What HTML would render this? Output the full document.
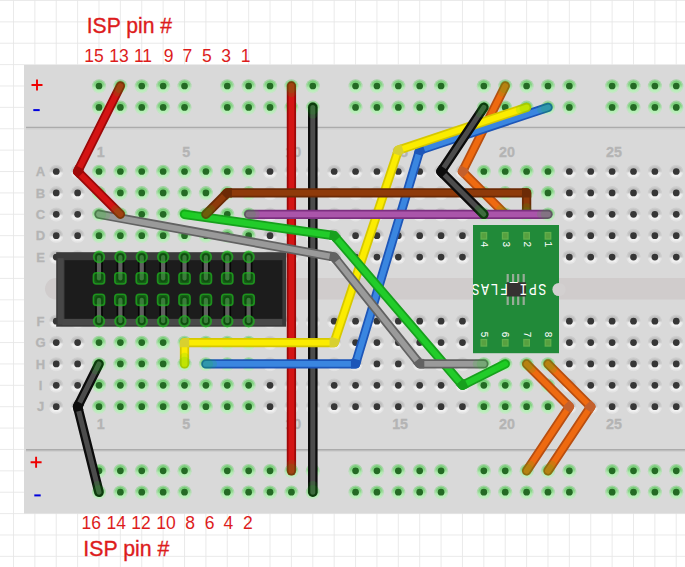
<!DOCTYPE html><html><head><meta charset="utf-8"><style>html,body{margin:0;padding:0;background:#fff;}svg{display:block;}</style></head><body>
<svg width="685" height="567" viewBox="0 0 685 567">
<defs>
<linearGradient id="hg" x1="0" y1="0" x2="0" y2="1"><stop offset="0" stop-color="#c4c4c4"/><stop offset="0.2" stop-color="#bcbcbc"/><stop offset="0.45" stop-color="#c6c6c6"/><stop offset="0.6" stop-color="#ececec"/><stop offset="0.85" stop-color="#f2f2f2"/><stop offset="1" stop-color="#e6e6e6"/></linearGradient>
<linearGradient id="gg" x1="0" y1="0" x2="0" y2="1"><stop offset="0" stop-color="#74cc74"/><stop offset="0.38" stop-color="#86d686"/><stop offset="0.62" stop-color="#aeeaae"/><stop offset="1" stop-color="#bdf0bd"/></linearGradient>
<clipPath id="modclip"><rect x="473" y="225" width="86" height="128"/></clipPath>
</defs>
<rect x="0" y="0" width="685" height="567" fill="#ffffff"/>
<path d="M13.48 0V567 M34.86 0V567 M56.24 0V567 M77.62 0V567 M99.00 0V567 M120.38 0V567 M141.76 0V567 M163.14 0V567 M184.52 0V567 M205.90 0V567 M227.28 0V567 M248.66 0V567 M270.04 0V567 M291.42 0V567 M312.80 0V567 M334.18 0V567 M355.56 0V567 M376.94 0V567 M398.32 0V567 M419.70 0V567 M441.08 0V567 M462.46 0V567 M483.84 0V567 M505.22 0V567 M526.60 0V567 M547.98 0V567 M569.36 0V567 M590.74 0V567 M612.12 0V567 M633.50 0V567 M654.88 0V567 M676.26 0V567 M0 0.48H685 M0 21.86H685 M0 43.24H685 M0 64.62H685 M0 86.00H685 M0 107.38H685 M0 128.76H685 M0 150.14H685 M0 171.52H685 M0 192.90H685 M0 214.28H685 M0 235.66H685 M0 257.04H685 M0 278.42H685 M0 299.80H685 M0 321.18H685 M0 342.56H685 M0 363.94H685 M0 385.32H685 M0 406.70H685 M0 428.08H685 M0 449.46H685 M0 470.84H685 M0 492.22H685 M0 513.60H685 M0 534.98H685 M0 556.36H685" stroke="#e6e6e6" stroke-width="0.85" fill="none"/>
<rect x="24" y="65" width="700" height="448.5" fill="#d9d9d9"/>
<path d="M26 127.5H700M26 449.9H700" stroke="#ababab" stroke-width="1.6"/>
<path d="M26 129H700M26 451.4H700" stroke="#cfcfcf" stroke-width="1.2"/>
<rect x="45" y="278" width="700" height="21.5" rx="10.75" fill="#d0cccc"/>
<path d="M31.5 85H42.5M37 79.5V90.5" stroke="#ee0000" stroke-width="1.9"/>
<path d="M33.3 110.1H39.7" stroke="#0000dd" stroke-width="2"/>
<path d="M30.6 462.3H41.6M36.1 456.8V467.8" stroke="#ee0000" stroke-width="1.9"/>
<path d="M34.3 495.4H40.7" stroke="#0000dd" stroke-width="2"/>
<text x="100.80" y="156.8" font-family="Liberation Sans" font-weight="bold" font-size="14.3" fill="#b4b4b4" stroke="#b4b4b4" stroke-width="0.3" text-anchor="middle">1</text>
<text x="100.80" y="428.5" font-family="Liberation Sans" font-weight="bold" font-size="14.3" fill="#b4b4b4" stroke="#b4b4b4" stroke-width="0.3" text-anchor="middle">1</text>
<text x="186.32" y="156.8" font-family="Liberation Sans" font-weight="bold" font-size="14.3" fill="#b4b4b4" stroke="#b4b4b4" stroke-width="0.3" text-anchor="middle">5</text>
<text x="186.32" y="428.5" font-family="Liberation Sans" font-weight="bold" font-size="14.3" fill="#b4b4b4" stroke="#b4b4b4" stroke-width="0.3" text-anchor="middle">5</text>
<text x="293.22" y="156.8" font-family="Liberation Sans" font-weight="bold" font-size="14.3" fill="#b4b4b4" stroke="#b4b4b4" stroke-width="0.3" text-anchor="middle">10</text>
<text x="293.22" y="428.5" font-family="Liberation Sans" font-weight="bold" font-size="14.3" fill="#b4b4b4" stroke="#b4b4b4" stroke-width="0.3" text-anchor="middle">10</text>
<text x="400.12" y="156.8" font-family="Liberation Sans" font-weight="bold" font-size="14.3" fill="#b4b4b4" stroke="#b4b4b4" stroke-width="0.3" text-anchor="middle">15</text>
<text x="400.12" y="428.5" font-family="Liberation Sans" font-weight="bold" font-size="14.3" fill="#b4b4b4" stroke="#b4b4b4" stroke-width="0.3" text-anchor="middle">15</text>
<text x="507.02" y="156.8" font-family="Liberation Sans" font-weight="bold" font-size="14.3" fill="#b4b4b4" stroke="#b4b4b4" stroke-width="0.3" text-anchor="middle">20</text>
<text x="507.02" y="428.5" font-family="Liberation Sans" font-weight="bold" font-size="14.3" fill="#b4b4b4" stroke="#b4b4b4" stroke-width="0.3" text-anchor="middle">20</text>
<text x="613.92" y="156.8" font-family="Liberation Sans" font-weight="bold" font-size="14.3" fill="#b4b4b4" stroke="#b4b4b4" stroke-width="0.3" text-anchor="middle">25</text>
<text x="613.92" y="428.5" font-family="Liberation Sans" font-weight="bold" font-size="14.3" fill="#b4b4b4" stroke="#b4b4b4" stroke-width="0.3" text-anchor="middle">25</text>
<text x="40.5" y="176.12" font-family="Liberation Sans" font-weight="bold" font-size="13" fill="#b4b4b4" stroke="#b4b4b4" stroke-width="0.3" text-anchor="middle">A</text>
<text x="40.5" y="197.50" font-family="Liberation Sans" font-weight="bold" font-size="13" fill="#b4b4b4" stroke="#b4b4b4" stroke-width="0.3" text-anchor="middle">B</text>
<text x="40.5" y="218.88" font-family="Liberation Sans" font-weight="bold" font-size="13" fill="#b4b4b4" stroke="#b4b4b4" stroke-width="0.3" text-anchor="middle">C</text>
<text x="40.5" y="240.26" font-family="Liberation Sans" font-weight="bold" font-size="13" fill="#b4b4b4" stroke="#b4b4b4" stroke-width="0.3" text-anchor="middle">D</text>
<text x="40.5" y="261.64" font-family="Liberation Sans" font-weight="bold" font-size="13" fill="#b4b4b4" stroke="#b4b4b4" stroke-width="0.3" text-anchor="middle">E</text>
<text x="40.5" y="325.78" font-family="Liberation Sans" font-weight="bold" font-size="13" fill="#b4b4b4" stroke="#b4b4b4" stroke-width="0.3" text-anchor="middle">F</text>
<text x="40.5" y="347.16" font-family="Liberation Sans" font-weight="bold" font-size="13" fill="#b4b4b4" stroke="#b4b4b4" stroke-width="0.3" text-anchor="middle">G</text>
<text x="40.5" y="368.54" font-family="Liberation Sans" font-weight="bold" font-size="13" fill="#b4b4b4" stroke="#b4b4b4" stroke-width="0.3" text-anchor="middle">H</text>
<text x="40.5" y="389.92" font-family="Liberation Sans" font-weight="bold" font-size="13" fill="#b4b4b4" stroke="#b4b4b4" stroke-width="0.3" text-anchor="middle">I</text>
<text x="40.5" y="411.30" font-family="Liberation Sans" font-weight="bold" font-size="13" fill="#b4b4b4" stroke="#b4b4b4" stroke-width="0.3" text-anchor="middle">J</text>
<circle cx="99.00" cy="86.30" r="7.1" fill="url(#gg)" opacity="0.55"/><circle cx="99.00" cy="86.20" r="5.7" fill="url(#gg)"/><circle cx="99.00" cy="86.00" r="3.35" fill="#246a24"/><circle cx="120.38" cy="86.30" r="7.1" fill="url(#gg)" opacity="0.55"/><circle cx="120.38" cy="86.20" r="5.7" fill="url(#gg)"/><circle cx="120.38" cy="86.00" r="3.35" fill="#246a24"/><circle cx="141.76" cy="86.30" r="7.1" fill="url(#gg)" opacity="0.55"/><circle cx="141.76" cy="86.20" r="5.7" fill="url(#gg)"/><circle cx="141.76" cy="86.00" r="3.35" fill="#246a24"/><circle cx="163.14" cy="86.30" r="7.1" fill="url(#gg)" opacity="0.55"/><circle cx="163.14" cy="86.20" r="5.7" fill="url(#gg)"/><circle cx="163.14" cy="86.00" r="3.35" fill="#246a24"/><circle cx="184.52" cy="86.30" r="7.1" fill="url(#gg)" opacity="0.55"/><circle cx="184.52" cy="86.20" r="5.7" fill="url(#gg)"/><circle cx="184.52" cy="86.00" r="3.35" fill="#246a24"/><circle cx="227.28" cy="86.30" r="7.1" fill="url(#gg)" opacity="0.55"/><circle cx="227.28" cy="86.20" r="5.7" fill="url(#gg)"/><circle cx="227.28" cy="86.00" r="3.35" fill="#246a24"/><circle cx="248.66" cy="86.30" r="7.1" fill="url(#gg)" opacity="0.55"/><circle cx="248.66" cy="86.20" r="5.7" fill="url(#gg)"/><circle cx="248.66" cy="86.00" r="3.35" fill="#246a24"/><circle cx="270.04" cy="86.30" r="7.1" fill="url(#gg)" opacity="0.55"/><circle cx="270.04" cy="86.20" r="5.7" fill="url(#gg)"/><circle cx="270.04" cy="86.00" r="3.35" fill="#246a24"/><circle cx="291.42" cy="86.30" r="7.1" fill="url(#gg)" opacity="0.55"/><circle cx="291.42" cy="86.20" r="5.7" fill="url(#gg)"/><circle cx="291.42" cy="86.00" r="3.35" fill="#246a24"/><circle cx="312.80" cy="86.30" r="7.1" fill="url(#gg)" opacity="0.55"/><circle cx="312.80" cy="86.20" r="5.7" fill="url(#gg)"/><circle cx="312.80" cy="86.00" r="3.35" fill="#246a24"/><circle cx="355.56" cy="86.30" r="7.1" fill="url(#gg)" opacity="0.55"/><circle cx="355.56" cy="86.20" r="5.7" fill="url(#gg)"/><circle cx="355.56" cy="86.00" r="3.35" fill="#246a24"/><circle cx="376.94" cy="86.30" r="7.1" fill="url(#gg)" opacity="0.55"/><circle cx="376.94" cy="86.20" r="5.7" fill="url(#gg)"/><circle cx="376.94" cy="86.00" r="3.35" fill="#246a24"/><circle cx="398.32" cy="86.30" r="7.1" fill="url(#gg)" opacity="0.55"/><circle cx="398.32" cy="86.20" r="5.7" fill="url(#gg)"/><circle cx="398.32" cy="86.00" r="3.35" fill="#246a24"/><circle cx="419.70" cy="86.30" r="7.1" fill="url(#gg)" opacity="0.55"/><circle cx="419.70" cy="86.20" r="5.7" fill="url(#gg)"/><circle cx="419.70" cy="86.00" r="3.35" fill="#246a24"/><circle cx="441.08" cy="86.30" r="7.1" fill="url(#gg)" opacity="0.55"/><circle cx="441.08" cy="86.20" r="5.7" fill="url(#gg)"/><circle cx="441.08" cy="86.00" r="3.35" fill="#246a24"/><circle cx="483.84" cy="86.30" r="7.1" fill="url(#gg)" opacity="0.55"/><circle cx="483.84" cy="86.20" r="5.7" fill="url(#gg)"/><circle cx="483.84" cy="86.00" r="3.35" fill="#246a24"/><circle cx="505.22" cy="86.30" r="7.1" fill="url(#gg)" opacity="0.55"/><circle cx="505.22" cy="86.20" r="5.7" fill="url(#gg)"/><circle cx="505.22" cy="86.00" r="3.35" fill="#246a24"/><circle cx="526.60" cy="86.30" r="7.1" fill="url(#gg)" opacity="0.55"/><circle cx="526.60" cy="86.20" r="5.7" fill="url(#gg)"/><circle cx="526.60" cy="86.00" r="3.35" fill="#246a24"/><circle cx="547.98" cy="86.30" r="7.1" fill="url(#gg)" opacity="0.55"/><circle cx="547.98" cy="86.20" r="5.7" fill="url(#gg)"/><circle cx="547.98" cy="86.00" r="3.35" fill="#246a24"/><circle cx="569.36" cy="86.30" r="7.1" fill="url(#gg)" opacity="0.55"/><circle cx="569.36" cy="86.20" r="5.7" fill="url(#gg)"/><circle cx="569.36" cy="86.00" r="3.35" fill="#246a24"/><circle cx="612.12" cy="86.30" r="7.1" fill="url(#gg)" opacity="0.55"/><circle cx="612.12" cy="86.20" r="5.7" fill="url(#gg)"/><circle cx="612.12" cy="86.00" r="3.35" fill="#246a24"/><circle cx="633.50" cy="86.30" r="7.1" fill="url(#gg)" opacity="0.55"/><circle cx="633.50" cy="86.20" r="5.7" fill="url(#gg)"/><circle cx="633.50" cy="86.00" r="3.35" fill="#246a24"/><circle cx="654.88" cy="86.30" r="7.1" fill="url(#gg)" opacity="0.55"/><circle cx="654.88" cy="86.20" r="5.7" fill="url(#gg)"/><circle cx="654.88" cy="86.00" r="3.35" fill="#246a24"/><circle cx="676.26" cy="86.30" r="7.1" fill="url(#gg)" opacity="0.55"/><circle cx="676.26" cy="86.20" r="5.7" fill="url(#gg)"/><circle cx="676.26" cy="86.00" r="3.35" fill="#246a24"/><circle cx="99.00" cy="107.68" r="7.1" fill="url(#gg)" opacity="0.55"/><circle cx="99.00" cy="107.58" r="5.7" fill="url(#gg)"/><circle cx="99.00" cy="107.38" r="3.35" fill="#246a24"/><circle cx="120.38" cy="107.68" r="7.1" fill="url(#gg)" opacity="0.55"/><circle cx="120.38" cy="107.58" r="5.7" fill="url(#gg)"/><circle cx="120.38" cy="107.38" r="3.35" fill="#246a24"/><circle cx="141.76" cy="107.68" r="7.1" fill="url(#gg)" opacity="0.55"/><circle cx="141.76" cy="107.58" r="5.7" fill="url(#gg)"/><circle cx="141.76" cy="107.38" r="3.35" fill="#246a24"/><circle cx="163.14" cy="107.68" r="7.1" fill="url(#gg)" opacity="0.55"/><circle cx="163.14" cy="107.58" r="5.7" fill="url(#gg)"/><circle cx="163.14" cy="107.38" r="3.35" fill="#246a24"/><circle cx="184.52" cy="107.68" r="7.1" fill="url(#gg)" opacity="0.55"/><circle cx="184.52" cy="107.58" r="5.7" fill="url(#gg)"/><circle cx="184.52" cy="107.38" r="3.35" fill="#246a24"/><circle cx="227.28" cy="107.68" r="7.1" fill="url(#gg)" opacity="0.55"/><circle cx="227.28" cy="107.58" r="5.7" fill="url(#gg)"/><circle cx="227.28" cy="107.38" r="3.35" fill="#246a24"/><circle cx="248.66" cy="107.68" r="7.1" fill="url(#gg)" opacity="0.55"/><circle cx="248.66" cy="107.58" r="5.7" fill="url(#gg)"/><circle cx="248.66" cy="107.38" r="3.35" fill="#246a24"/><circle cx="270.04" cy="107.68" r="7.1" fill="url(#gg)" opacity="0.55"/><circle cx="270.04" cy="107.58" r="5.7" fill="url(#gg)"/><circle cx="270.04" cy="107.38" r="3.35" fill="#246a24"/><circle cx="291.42" cy="107.68" r="7.1" fill="url(#gg)" opacity="0.55"/><circle cx="291.42" cy="107.58" r="5.7" fill="url(#gg)"/><circle cx="291.42" cy="107.38" r="3.35" fill="#246a24"/><circle cx="312.80" cy="107.68" r="7.1" fill="url(#gg)" opacity="0.55"/><circle cx="312.80" cy="107.58" r="5.7" fill="url(#gg)"/><circle cx="312.80" cy="107.38" r="3.35" fill="#246a24"/><circle cx="355.56" cy="107.68" r="7.1" fill="url(#gg)" opacity="0.55"/><circle cx="355.56" cy="107.58" r="5.7" fill="url(#gg)"/><circle cx="355.56" cy="107.38" r="3.35" fill="#246a24"/><circle cx="376.94" cy="107.68" r="7.1" fill="url(#gg)" opacity="0.55"/><circle cx="376.94" cy="107.58" r="5.7" fill="url(#gg)"/><circle cx="376.94" cy="107.38" r="3.35" fill="#246a24"/><circle cx="398.32" cy="107.68" r="7.1" fill="url(#gg)" opacity="0.55"/><circle cx="398.32" cy="107.58" r="5.7" fill="url(#gg)"/><circle cx="398.32" cy="107.38" r="3.35" fill="#246a24"/><circle cx="419.70" cy="107.68" r="7.1" fill="url(#gg)" opacity="0.55"/><circle cx="419.70" cy="107.58" r="5.7" fill="url(#gg)"/><circle cx="419.70" cy="107.38" r="3.35" fill="#246a24"/><circle cx="441.08" cy="107.68" r="7.1" fill="url(#gg)" opacity="0.55"/><circle cx="441.08" cy="107.58" r="5.7" fill="url(#gg)"/><circle cx="441.08" cy="107.38" r="3.35" fill="#246a24"/><circle cx="483.84" cy="107.68" r="7.1" fill="url(#gg)" opacity="0.55"/><circle cx="483.84" cy="107.58" r="5.7" fill="url(#gg)"/><circle cx="483.84" cy="107.38" r="3.35" fill="#246a24"/><circle cx="505.22" cy="107.68" r="7.1" fill="url(#gg)" opacity="0.55"/><circle cx="505.22" cy="107.58" r="5.7" fill="url(#gg)"/><circle cx="505.22" cy="107.38" r="3.35" fill="#246a24"/><circle cx="526.60" cy="107.68" r="7.1" fill="url(#gg)" opacity="0.55"/><circle cx="526.60" cy="107.58" r="5.7" fill="url(#gg)"/><circle cx="526.60" cy="107.38" r="3.35" fill="#246a24"/><circle cx="547.98" cy="107.68" r="7.1" fill="url(#gg)" opacity="0.55"/><circle cx="547.98" cy="107.58" r="5.7" fill="url(#gg)"/><circle cx="547.98" cy="107.38" r="3.35" fill="#246a24"/><circle cx="569.36" cy="107.68" r="7.1" fill="url(#gg)" opacity="0.55"/><circle cx="569.36" cy="107.58" r="5.7" fill="url(#gg)"/><circle cx="569.36" cy="107.38" r="3.35" fill="#246a24"/><circle cx="612.12" cy="107.68" r="7.1" fill="url(#gg)" opacity="0.55"/><circle cx="612.12" cy="107.58" r="5.7" fill="url(#gg)"/><circle cx="612.12" cy="107.38" r="3.35" fill="#246a24"/><circle cx="633.50" cy="107.68" r="7.1" fill="url(#gg)" opacity="0.55"/><circle cx="633.50" cy="107.58" r="5.7" fill="url(#gg)"/><circle cx="633.50" cy="107.38" r="3.35" fill="#246a24"/><circle cx="654.88" cy="107.68" r="7.1" fill="url(#gg)" opacity="0.55"/><circle cx="654.88" cy="107.58" r="5.7" fill="url(#gg)"/><circle cx="654.88" cy="107.38" r="3.35" fill="#246a24"/><circle cx="676.26" cy="107.68" r="7.1" fill="url(#gg)" opacity="0.55"/><circle cx="676.26" cy="107.58" r="5.7" fill="url(#gg)"/><circle cx="676.26" cy="107.38" r="3.35" fill="#246a24"/><circle cx="99.00" cy="471.14" r="7.1" fill="url(#gg)" opacity="0.55"/><circle cx="99.00" cy="471.04" r="5.7" fill="url(#gg)"/><circle cx="99.00" cy="470.84" r="3.35" fill="#246a24"/><circle cx="120.38" cy="471.14" r="7.1" fill="url(#gg)" opacity="0.55"/><circle cx="120.38" cy="471.04" r="5.7" fill="url(#gg)"/><circle cx="120.38" cy="470.84" r="3.35" fill="#246a24"/><circle cx="141.76" cy="471.14" r="7.1" fill="url(#gg)" opacity="0.55"/><circle cx="141.76" cy="471.04" r="5.7" fill="url(#gg)"/><circle cx="141.76" cy="470.84" r="3.35" fill="#246a24"/><circle cx="163.14" cy="471.14" r="7.1" fill="url(#gg)" opacity="0.55"/><circle cx="163.14" cy="471.04" r="5.7" fill="url(#gg)"/><circle cx="163.14" cy="470.84" r="3.35" fill="#246a24"/><circle cx="184.52" cy="471.14" r="7.1" fill="url(#gg)" opacity="0.55"/><circle cx="184.52" cy="471.04" r="5.7" fill="url(#gg)"/><circle cx="184.52" cy="470.84" r="3.35" fill="#246a24"/><circle cx="227.28" cy="471.14" r="7.1" fill="url(#gg)" opacity="0.55"/><circle cx="227.28" cy="471.04" r="5.7" fill="url(#gg)"/><circle cx="227.28" cy="470.84" r="3.35" fill="#246a24"/><circle cx="248.66" cy="471.14" r="7.1" fill="url(#gg)" opacity="0.55"/><circle cx="248.66" cy="471.04" r="5.7" fill="url(#gg)"/><circle cx="248.66" cy="470.84" r="3.35" fill="#246a24"/><circle cx="270.04" cy="471.14" r="7.1" fill="url(#gg)" opacity="0.55"/><circle cx="270.04" cy="471.04" r="5.7" fill="url(#gg)"/><circle cx="270.04" cy="470.84" r="3.35" fill="#246a24"/><circle cx="291.42" cy="471.14" r="7.1" fill="url(#gg)" opacity="0.55"/><circle cx="291.42" cy="471.04" r="5.7" fill="url(#gg)"/><circle cx="291.42" cy="470.84" r="3.35" fill="#246a24"/><circle cx="312.80" cy="471.14" r="7.1" fill="url(#gg)" opacity="0.55"/><circle cx="312.80" cy="471.04" r="5.7" fill="url(#gg)"/><circle cx="312.80" cy="470.84" r="3.35" fill="#246a24"/><circle cx="355.56" cy="471.14" r="7.1" fill="url(#gg)" opacity="0.55"/><circle cx="355.56" cy="471.04" r="5.7" fill="url(#gg)"/><circle cx="355.56" cy="470.84" r="3.35" fill="#246a24"/><circle cx="376.94" cy="471.14" r="7.1" fill="url(#gg)" opacity="0.55"/><circle cx="376.94" cy="471.04" r="5.7" fill="url(#gg)"/><circle cx="376.94" cy="470.84" r="3.35" fill="#246a24"/><circle cx="398.32" cy="471.14" r="7.1" fill="url(#gg)" opacity="0.55"/><circle cx="398.32" cy="471.04" r="5.7" fill="url(#gg)"/><circle cx="398.32" cy="470.84" r="3.35" fill="#246a24"/><circle cx="419.70" cy="471.14" r="7.1" fill="url(#gg)" opacity="0.55"/><circle cx="419.70" cy="471.04" r="5.7" fill="url(#gg)"/><circle cx="419.70" cy="470.84" r="3.35" fill="#246a24"/><circle cx="441.08" cy="471.14" r="7.1" fill="url(#gg)" opacity="0.55"/><circle cx="441.08" cy="471.04" r="5.7" fill="url(#gg)"/><circle cx="441.08" cy="470.84" r="3.35" fill="#246a24"/><circle cx="483.84" cy="471.14" r="7.1" fill="url(#gg)" opacity="0.55"/><circle cx="483.84" cy="471.04" r="5.7" fill="url(#gg)"/><circle cx="483.84" cy="470.84" r="3.35" fill="#246a24"/><circle cx="505.22" cy="471.14" r="7.1" fill="url(#gg)" opacity="0.55"/><circle cx="505.22" cy="471.04" r="5.7" fill="url(#gg)"/><circle cx="505.22" cy="470.84" r="3.35" fill="#246a24"/><circle cx="526.60" cy="471.14" r="7.1" fill="url(#gg)" opacity="0.55"/><circle cx="526.60" cy="471.04" r="5.7" fill="url(#gg)"/><circle cx="526.60" cy="470.84" r="3.35" fill="#246a24"/><circle cx="547.98" cy="471.14" r="7.1" fill="url(#gg)" opacity="0.55"/><circle cx="547.98" cy="471.04" r="5.7" fill="url(#gg)"/><circle cx="547.98" cy="470.84" r="3.35" fill="#246a24"/><circle cx="569.36" cy="471.14" r="7.1" fill="url(#gg)" opacity="0.55"/><circle cx="569.36" cy="471.04" r="5.7" fill="url(#gg)"/><circle cx="569.36" cy="470.84" r="3.35" fill="#246a24"/><circle cx="612.12" cy="471.14" r="7.1" fill="url(#gg)" opacity="0.55"/><circle cx="612.12" cy="471.04" r="5.7" fill="url(#gg)"/><circle cx="612.12" cy="470.84" r="3.35" fill="#246a24"/><circle cx="633.50" cy="471.14" r="7.1" fill="url(#gg)" opacity="0.55"/><circle cx="633.50" cy="471.04" r="5.7" fill="url(#gg)"/><circle cx="633.50" cy="470.84" r="3.35" fill="#246a24"/><circle cx="654.88" cy="471.14" r="7.1" fill="url(#gg)" opacity="0.55"/><circle cx="654.88" cy="471.04" r="5.7" fill="url(#gg)"/><circle cx="654.88" cy="470.84" r="3.35" fill="#246a24"/><circle cx="676.26" cy="471.14" r="7.1" fill="url(#gg)" opacity="0.55"/><circle cx="676.26" cy="471.04" r="5.7" fill="url(#gg)"/><circle cx="676.26" cy="470.84" r="3.35" fill="#246a24"/><circle cx="99.00" cy="492.52" r="7.1" fill="url(#gg)" opacity="0.55"/><circle cx="99.00" cy="492.42" r="5.7" fill="url(#gg)"/><circle cx="99.00" cy="492.22" r="3.35" fill="#246a24"/><circle cx="120.38" cy="492.52" r="7.1" fill="url(#gg)" opacity="0.55"/><circle cx="120.38" cy="492.42" r="5.7" fill="url(#gg)"/><circle cx="120.38" cy="492.22" r="3.35" fill="#246a24"/><circle cx="141.76" cy="492.52" r="7.1" fill="url(#gg)" opacity="0.55"/><circle cx="141.76" cy="492.42" r="5.7" fill="url(#gg)"/><circle cx="141.76" cy="492.22" r="3.35" fill="#246a24"/><circle cx="163.14" cy="492.52" r="7.1" fill="url(#gg)" opacity="0.55"/><circle cx="163.14" cy="492.42" r="5.7" fill="url(#gg)"/><circle cx="163.14" cy="492.22" r="3.35" fill="#246a24"/><circle cx="184.52" cy="492.52" r="7.1" fill="url(#gg)" opacity="0.55"/><circle cx="184.52" cy="492.42" r="5.7" fill="url(#gg)"/><circle cx="184.52" cy="492.22" r="3.35" fill="#246a24"/><circle cx="227.28" cy="492.52" r="7.1" fill="url(#gg)" opacity="0.55"/><circle cx="227.28" cy="492.42" r="5.7" fill="url(#gg)"/><circle cx="227.28" cy="492.22" r="3.35" fill="#246a24"/><circle cx="248.66" cy="492.52" r="7.1" fill="url(#gg)" opacity="0.55"/><circle cx="248.66" cy="492.42" r="5.7" fill="url(#gg)"/><circle cx="248.66" cy="492.22" r="3.35" fill="#246a24"/><circle cx="270.04" cy="492.52" r="7.1" fill="url(#gg)" opacity="0.55"/><circle cx="270.04" cy="492.42" r="5.7" fill="url(#gg)"/><circle cx="270.04" cy="492.22" r="3.35" fill="#246a24"/><circle cx="291.42" cy="492.52" r="7.1" fill="url(#gg)" opacity="0.55"/><circle cx="291.42" cy="492.42" r="5.7" fill="url(#gg)"/><circle cx="291.42" cy="492.22" r="3.35" fill="#246a24"/><circle cx="312.80" cy="492.52" r="7.1" fill="url(#gg)" opacity="0.55"/><circle cx="312.80" cy="492.42" r="5.7" fill="url(#gg)"/><circle cx="312.80" cy="492.22" r="3.35" fill="#246a24"/><circle cx="355.56" cy="492.52" r="7.1" fill="url(#gg)" opacity="0.55"/><circle cx="355.56" cy="492.42" r="5.7" fill="url(#gg)"/><circle cx="355.56" cy="492.22" r="3.35" fill="#246a24"/><circle cx="376.94" cy="492.52" r="7.1" fill="url(#gg)" opacity="0.55"/><circle cx="376.94" cy="492.42" r="5.7" fill="url(#gg)"/><circle cx="376.94" cy="492.22" r="3.35" fill="#246a24"/><circle cx="398.32" cy="492.52" r="7.1" fill="url(#gg)" opacity="0.55"/><circle cx="398.32" cy="492.42" r="5.7" fill="url(#gg)"/><circle cx="398.32" cy="492.22" r="3.35" fill="#246a24"/><circle cx="419.70" cy="492.52" r="7.1" fill="url(#gg)" opacity="0.55"/><circle cx="419.70" cy="492.42" r="5.7" fill="url(#gg)"/><circle cx="419.70" cy="492.22" r="3.35" fill="#246a24"/><circle cx="441.08" cy="492.52" r="7.1" fill="url(#gg)" opacity="0.55"/><circle cx="441.08" cy="492.42" r="5.7" fill="url(#gg)"/><circle cx="441.08" cy="492.22" r="3.35" fill="#246a24"/><circle cx="483.84" cy="492.52" r="7.1" fill="url(#gg)" opacity="0.55"/><circle cx="483.84" cy="492.42" r="5.7" fill="url(#gg)"/><circle cx="483.84" cy="492.22" r="3.35" fill="#246a24"/><circle cx="505.22" cy="492.52" r="7.1" fill="url(#gg)" opacity="0.55"/><circle cx="505.22" cy="492.42" r="5.7" fill="url(#gg)"/><circle cx="505.22" cy="492.22" r="3.35" fill="#246a24"/><circle cx="526.60" cy="492.52" r="7.1" fill="url(#gg)" opacity="0.55"/><circle cx="526.60" cy="492.42" r="5.7" fill="url(#gg)"/><circle cx="526.60" cy="492.22" r="3.35" fill="#246a24"/><circle cx="547.98" cy="492.52" r="7.1" fill="url(#gg)" opacity="0.55"/><circle cx="547.98" cy="492.42" r="5.7" fill="url(#gg)"/><circle cx="547.98" cy="492.22" r="3.35" fill="#246a24"/><circle cx="569.36" cy="492.52" r="7.1" fill="url(#gg)" opacity="0.55"/><circle cx="569.36" cy="492.42" r="5.7" fill="url(#gg)"/><circle cx="569.36" cy="492.22" r="3.35" fill="#246a24"/><circle cx="612.12" cy="492.52" r="7.1" fill="url(#gg)" opacity="0.55"/><circle cx="612.12" cy="492.42" r="5.7" fill="url(#gg)"/><circle cx="612.12" cy="492.22" r="3.35" fill="#246a24"/><circle cx="633.50" cy="492.52" r="7.1" fill="url(#gg)" opacity="0.55"/><circle cx="633.50" cy="492.42" r="5.7" fill="url(#gg)"/><circle cx="633.50" cy="492.22" r="3.35" fill="#246a24"/><circle cx="654.88" cy="492.52" r="7.1" fill="url(#gg)" opacity="0.55"/><circle cx="654.88" cy="492.42" r="5.7" fill="url(#gg)"/><circle cx="654.88" cy="492.22" r="3.35" fill="#246a24"/><circle cx="676.26" cy="492.52" r="7.1" fill="url(#gg)" opacity="0.55"/><circle cx="676.26" cy="492.42" r="5.7" fill="url(#gg)"/><circle cx="676.26" cy="492.22" r="3.35" fill="#246a24"/><circle cx="56.24" cy="171.82" r="7.1" fill="url(#hg)" opacity="0.55"/><circle cx="56.24" cy="171.72" r="5.7" fill="url(#hg)"/><circle cx="56.24" cy="171.52" r="3.35" fill="#363636"/><circle cx="77.62" cy="171.82" r="7.1" fill="url(#hg)" opacity="0.55"/><circle cx="77.62" cy="171.72" r="5.7" fill="url(#hg)"/><circle cx="77.62" cy="171.52" r="3.35" fill="#363636"/><circle cx="99.00" cy="171.82" r="7.1" fill="url(#gg)" opacity="0.55"/><circle cx="99.00" cy="171.72" r="5.7" fill="url(#gg)"/><circle cx="99.00" cy="171.52" r="3.35" fill="#246a24"/><circle cx="120.38" cy="171.82" r="7.1" fill="url(#gg)" opacity="0.55"/><circle cx="120.38" cy="171.72" r="5.7" fill="url(#gg)"/><circle cx="120.38" cy="171.52" r="3.35" fill="#246a24"/><circle cx="141.76" cy="171.82" r="7.1" fill="url(#gg)" opacity="0.55"/><circle cx="141.76" cy="171.72" r="5.7" fill="url(#gg)"/><circle cx="141.76" cy="171.52" r="3.35" fill="#246a24"/><circle cx="163.14" cy="171.82" r="7.1" fill="url(#gg)" opacity="0.55"/><circle cx="163.14" cy="171.72" r="5.7" fill="url(#gg)"/><circle cx="163.14" cy="171.52" r="3.35" fill="#246a24"/><circle cx="184.52" cy="171.82" r="7.1" fill="url(#gg)" opacity="0.55"/><circle cx="184.52" cy="171.72" r="5.7" fill="url(#gg)"/><circle cx="184.52" cy="171.52" r="3.35" fill="#246a24"/><circle cx="205.90" cy="171.82" r="7.1" fill="url(#gg)" opacity="0.55"/><circle cx="205.90" cy="171.72" r="5.7" fill="url(#gg)"/><circle cx="205.90" cy="171.52" r="3.35" fill="#246a24"/><circle cx="227.28" cy="171.82" r="7.1" fill="url(#gg)" opacity="0.55"/><circle cx="227.28" cy="171.72" r="5.7" fill="url(#gg)"/><circle cx="227.28" cy="171.52" r="3.35" fill="#246a24"/><circle cx="248.66" cy="171.82" r="7.1" fill="url(#gg)" opacity="0.55"/><circle cx="248.66" cy="171.72" r="5.7" fill="url(#gg)"/><circle cx="248.66" cy="171.52" r="3.35" fill="#246a24"/><circle cx="270.04" cy="171.82" r="7.1" fill="url(#hg)" opacity="0.55"/><circle cx="270.04" cy="171.72" r="5.7" fill="url(#hg)"/><circle cx="270.04" cy="171.52" r="3.35" fill="#363636"/><circle cx="291.42" cy="171.82" r="7.1" fill="url(#hg)" opacity="0.55"/><circle cx="291.42" cy="171.72" r="5.7" fill="url(#hg)"/><circle cx="291.42" cy="171.52" r="3.35" fill="#363636"/><circle cx="312.80" cy="171.82" r="7.1" fill="url(#hg)" opacity="0.55"/><circle cx="312.80" cy="171.72" r="5.7" fill="url(#hg)"/><circle cx="312.80" cy="171.52" r="3.35" fill="#363636"/><circle cx="334.18" cy="171.82" r="7.1" fill="url(#hg)" opacity="0.55"/><circle cx="334.18" cy="171.72" r="5.7" fill="url(#hg)"/><circle cx="334.18" cy="171.52" r="3.35" fill="#363636"/><circle cx="355.56" cy="171.82" r="7.1" fill="url(#hg)" opacity="0.55"/><circle cx="355.56" cy="171.72" r="5.7" fill="url(#hg)"/><circle cx="355.56" cy="171.52" r="3.35" fill="#363636"/><circle cx="376.94" cy="171.82" r="7.1" fill="url(#hg)" opacity="0.55"/><circle cx="376.94" cy="171.72" r="5.7" fill="url(#hg)"/><circle cx="376.94" cy="171.52" r="3.35" fill="#363636"/><circle cx="398.32" cy="171.82" r="7.1" fill="url(#hg)" opacity="0.55"/><circle cx="398.32" cy="171.72" r="5.7" fill="url(#hg)"/><circle cx="398.32" cy="171.52" r="3.35" fill="#363636"/><circle cx="419.70" cy="171.82" r="7.1" fill="url(#hg)" opacity="0.55"/><circle cx="419.70" cy="171.72" r="5.7" fill="url(#hg)"/><circle cx="419.70" cy="171.52" r="3.35" fill="#363636"/><circle cx="441.08" cy="171.82" r="7.1" fill="url(#hg)" opacity="0.55"/><circle cx="441.08" cy="171.72" r="5.7" fill="url(#hg)"/><circle cx="441.08" cy="171.52" r="3.35" fill="#363636"/><circle cx="462.46" cy="171.82" r="7.1" fill="url(#hg)" opacity="0.55"/><circle cx="462.46" cy="171.72" r="5.7" fill="url(#hg)"/><circle cx="462.46" cy="171.52" r="3.35" fill="#363636"/><circle cx="483.84" cy="171.82" r="7.1" fill="url(#gg)" opacity="0.55"/><circle cx="483.84" cy="171.72" r="5.7" fill="url(#gg)"/><circle cx="483.84" cy="171.52" r="3.35" fill="#246a24"/><circle cx="505.22" cy="171.82" r="7.1" fill="url(#gg)" opacity="0.55"/><circle cx="505.22" cy="171.72" r="5.7" fill="url(#gg)"/><circle cx="505.22" cy="171.52" r="3.35" fill="#246a24"/><circle cx="526.60" cy="171.82" r="7.1" fill="url(#gg)" opacity="0.55"/><circle cx="526.60" cy="171.72" r="5.7" fill="url(#gg)"/><circle cx="526.60" cy="171.52" r="3.35" fill="#246a24"/><circle cx="547.98" cy="171.82" r="7.1" fill="url(#gg)" opacity="0.55"/><circle cx="547.98" cy="171.72" r="5.7" fill="url(#gg)"/><circle cx="547.98" cy="171.52" r="3.35" fill="#246a24"/><circle cx="569.36" cy="171.82" r="7.1" fill="url(#hg)" opacity="0.55"/><circle cx="569.36" cy="171.72" r="5.7" fill="url(#hg)"/><circle cx="569.36" cy="171.52" r="3.35" fill="#363636"/><circle cx="590.74" cy="171.82" r="7.1" fill="url(#hg)" opacity="0.55"/><circle cx="590.74" cy="171.72" r="5.7" fill="url(#hg)"/><circle cx="590.74" cy="171.52" r="3.35" fill="#363636"/><circle cx="612.12" cy="171.82" r="7.1" fill="url(#hg)" opacity="0.55"/><circle cx="612.12" cy="171.72" r="5.7" fill="url(#hg)"/><circle cx="612.12" cy="171.52" r="3.35" fill="#363636"/><circle cx="633.50" cy="171.82" r="7.1" fill="url(#hg)" opacity="0.55"/><circle cx="633.50" cy="171.72" r="5.7" fill="url(#hg)"/><circle cx="633.50" cy="171.52" r="3.35" fill="#363636"/><circle cx="654.88" cy="171.82" r="7.1" fill="url(#hg)" opacity="0.55"/><circle cx="654.88" cy="171.72" r="5.7" fill="url(#hg)"/><circle cx="654.88" cy="171.52" r="3.35" fill="#363636"/><circle cx="676.26" cy="171.82" r="7.1" fill="url(#hg)" opacity="0.55"/><circle cx="676.26" cy="171.72" r="5.7" fill="url(#hg)"/><circle cx="676.26" cy="171.52" r="3.35" fill="#363636"/><circle cx="56.24" cy="193.20" r="7.1" fill="url(#hg)" opacity="0.55"/><circle cx="56.24" cy="193.10" r="5.7" fill="url(#hg)"/><circle cx="56.24" cy="192.90" r="3.35" fill="#363636"/><circle cx="77.62" cy="193.20" r="7.1" fill="url(#hg)" opacity="0.55"/><circle cx="77.62" cy="193.10" r="5.7" fill="url(#hg)"/><circle cx="77.62" cy="192.90" r="3.35" fill="#363636"/><circle cx="99.00" cy="193.20" r="7.1" fill="url(#gg)" opacity="0.55"/><circle cx="99.00" cy="193.10" r="5.7" fill="url(#gg)"/><circle cx="99.00" cy="192.90" r="3.35" fill="#246a24"/><circle cx="120.38" cy="193.20" r="7.1" fill="url(#gg)" opacity="0.55"/><circle cx="120.38" cy="193.10" r="5.7" fill="url(#gg)"/><circle cx="120.38" cy="192.90" r="3.35" fill="#246a24"/><circle cx="141.76" cy="193.20" r="7.1" fill="url(#gg)" opacity="0.55"/><circle cx="141.76" cy="193.10" r="5.7" fill="url(#gg)"/><circle cx="141.76" cy="192.90" r="3.35" fill="#246a24"/><circle cx="163.14" cy="193.20" r="7.1" fill="url(#gg)" opacity="0.55"/><circle cx="163.14" cy="193.10" r="5.7" fill="url(#gg)"/><circle cx="163.14" cy="192.90" r="3.35" fill="#246a24"/><circle cx="184.52" cy="193.20" r="7.1" fill="url(#gg)" opacity="0.55"/><circle cx="184.52" cy="193.10" r="5.7" fill="url(#gg)"/><circle cx="184.52" cy="192.90" r="3.35" fill="#246a24"/><circle cx="205.90" cy="193.20" r="7.1" fill="url(#gg)" opacity="0.55"/><circle cx="205.90" cy="193.10" r="5.7" fill="url(#gg)"/><circle cx="205.90" cy="192.90" r="3.35" fill="#246a24"/><circle cx="227.28" cy="193.20" r="7.1" fill="url(#gg)" opacity="0.55"/><circle cx="227.28" cy="193.10" r="5.7" fill="url(#gg)"/><circle cx="227.28" cy="192.90" r="3.35" fill="#246a24"/><circle cx="248.66" cy="193.20" r="7.1" fill="url(#gg)" opacity="0.55"/><circle cx="248.66" cy="193.10" r="5.7" fill="url(#gg)"/><circle cx="248.66" cy="192.90" r="3.35" fill="#246a24"/><circle cx="270.04" cy="193.20" r="7.1" fill="url(#hg)" opacity="0.55"/><circle cx="270.04" cy="193.10" r="5.7" fill="url(#hg)"/><circle cx="270.04" cy="192.90" r="3.35" fill="#363636"/><circle cx="291.42" cy="193.20" r="7.1" fill="url(#hg)" opacity="0.55"/><circle cx="291.42" cy="193.10" r="5.7" fill="url(#hg)"/><circle cx="291.42" cy="192.90" r="3.35" fill="#363636"/><circle cx="312.80" cy="193.20" r="7.1" fill="url(#hg)" opacity="0.55"/><circle cx="312.80" cy="193.10" r="5.7" fill="url(#hg)"/><circle cx="312.80" cy="192.90" r="3.35" fill="#363636"/><circle cx="334.18" cy="193.20" r="7.1" fill="url(#hg)" opacity="0.55"/><circle cx="334.18" cy="193.10" r="5.7" fill="url(#hg)"/><circle cx="334.18" cy="192.90" r="3.35" fill="#363636"/><circle cx="355.56" cy="193.20" r="7.1" fill="url(#hg)" opacity="0.55"/><circle cx="355.56" cy="193.10" r="5.7" fill="url(#hg)"/><circle cx="355.56" cy="192.90" r="3.35" fill="#363636"/><circle cx="376.94" cy="193.20" r="7.1" fill="url(#hg)" opacity="0.55"/><circle cx="376.94" cy="193.10" r="5.7" fill="url(#hg)"/><circle cx="376.94" cy="192.90" r="3.35" fill="#363636"/><circle cx="398.32" cy="193.20" r="7.1" fill="url(#hg)" opacity="0.55"/><circle cx="398.32" cy="193.10" r="5.7" fill="url(#hg)"/><circle cx="398.32" cy="192.90" r="3.35" fill="#363636"/><circle cx="419.70" cy="193.20" r="7.1" fill="url(#hg)" opacity="0.55"/><circle cx="419.70" cy="193.10" r="5.7" fill="url(#hg)"/><circle cx="419.70" cy="192.90" r="3.35" fill="#363636"/><circle cx="441.08" cy="193.20" r="7.1" fill="url(#hg)" opacity="0.55"/><circle cx="441.08" cy="193.10" r="5.7" fill="url(#hg)"/><circle cx="441.08" cy="192.90" r="3.35" fill="#363636"/><circle cx="462.46" cy="193.20" r="7.1" fill="url(#hg)" opacity="0.55"/><circle cx="462.46" cy="193.10" r="5.7" fill="url(#hg)"/><circle cx="462.46" cy="192.90" r="3.35" fill="#363636"/><circle cx="483.84" cy="193.20" r="7.1" fill="url(#gg)" opacity="0.55"/><circle cx="483.84" cy="193.10" r="5.7" fill="url(#gg)"/><circle cx="483.84" cy="192.90" r="3.35" fill="#246a24"/><circle cx="505.22" cy="193.20" r="7.1" fill="url(#gg)" opacity="0.55"/><circle cx="505.22" cy="193.10" r="5.7" fill="url(#gg)"/><circle cx="505.22" cy="192.90" r="3.35" fill="#246a24"/><circle cx="526.60" cy="193.20" r="7.1" fill="url(#gg)" opacity="0.55"/><circle cx="526.60" cy="193.10" r="5.7" fill="url(#gg)"/><circle cx="526.60" cy="192.90" r="3.35" fill="#246a24"/><circle cx="547.98" cy="193.20" r="7.1" fill="url(#gg)" opacity="0.55"/><circle cx="547.98" cy="193.10" r="5.7" fill="url(#gg)"/><circle cx="547.98" cy="192.90" r="3.35" fill="#246a24"/><circle cx="569.36" cy="193.20" r="7.1" fill="url(#hg)" opacity="0.55"/><circle cx="569.36" cy="193.10" r="5.7" fill="url(#hg)"/><circle cx="569.36" cy="192.90" r="3.35" fill="#363636"/><circle cx="590.74" cy="193.20" r="7.1" fill="url(#hg)" opacity="0.55"/><circle cx="590.74" cy="193.10" r="5.7" fill="url(#hg)"/><circle cx="590.74" cy="192.90" r="3.35" fill="#363636"/><circle cx="612.12" cy="193.20" r="7.1" fill="url(#hg)" opacity="0.55"/><circle cx="612.12" cy="193.10" r="5.7" fill="url(#hg)"/><circle cx="612.12" cy="192.90" r="3.35" fill="#363636"/><circle cx="633.50" cy="193.20" r="7.1" fill="url(#hg)" opacity="0.55"/><circle cx="633.50" cy="193.10" r="5.7" fill="url(#hg)"/><circle cx="633.50" cy="192.90" r="3.35" fill="#363636"/><circle cx="654.88" cy="193.20" r="7.1" fill="url(#hg)" opacity="0.55"/><circle cx="654.88" cy="193.10" r="5.7" fill="url(#hg)"/><circle cx="654.88" cy="192.90" r="3.35" fill="#363636"/><circle cx="676.26" cy="193.20" r="7.1" fill="url(#hg)" opacity="0.55"/><circle cx="676.26" cy="193.10" r="5.7" fill="url(#hg)"/><circle cx="676.26" cy="192.90" r="3.35" fill="#363636"/><circle cx="56.24" cy="214.58" r="7.1" fill="url(#hg)" opacity="0.55"/><circle cx="56.24" cy="214.48" r="5.7" fill="url(#hg)"/><circle cx="56.24" cy="214.28" r="3.35" fill="#363636"/><circle cx="77.62" cy="214.58" r="7.1" fill="url(#hg)" opacity="0.55"/><circle cx="77.62" cy="214.48" r="5.7" fill="url(#hg)"/><circle cx="77.62" cy="214.28" r="3.35" fill="#363636"/><circle cx="99.00" cy="214.58" r="7.1" fill="url(#gg)" opacity="0.55"/><circle cx="99.00" cy="214.48" r="5.7" fill="url(#gg)"/><circle cx="99.00" cy="214.28" r="3.35" fill="#246a24"/><circle cx="120.38" cy="214.58" r="7.1" fill="url(#gg)" opacity="0.55"/><circle cx="120.38" cy="214.48" r="5.7" fill="url(#gg)"/><circle cx="120.38" cy="214.28" r="3.35" fill="#246a24"/><circle cx="141.76" cy="214.58" r="7.1" fill="url(#gg)" opacity="0.55"/><circle cx="141.76" cy="214.48" r="5.7" fill="url(#gg)"/><circle cx="141.76" cy="214.28" r="3.35" fill="#246a24"/><circle cx="163.14" cy="214.58" r="7.1" fill="url(#gg)" opacity="0.55"/><circle cx="163.14" cy="214.48" r="5.7" fill="url(#gg)"/><circle cx="163.14" cy="214.28" r="3.35" fill="#246a24"/><circle cx="184.52" cy="214.58" r="7.1" fill="url(#gg)" opacity="0.55"/><circle cx="184.52" cy="214.48" r="5.7" fill="url(#gg)"/><circle cx="184.52" cy="214.28" r="3.35" fill="#246a24"/><circle cx="205.90" cy="214.58" r="7.1" fill="url(#gg)" opacity="0.55"/><circle cx="205.90" cy="214.48" r="5.7" fill="url(#gg)"/><circle cx="205.90" cy="214.28" r="3.35" fill="#246a24"/><circle cx="227.28" cy="214.58" r="7.1" fill="url(#gg)" opacity="0.55"/><circle cx="227.28" cy="214.48" r="5.7" fill="url(#gg)"/><circle cx="227.28" cy="214.28" r="3.35" fill="#246a24"/><circle cx="248.66" cy="214.58" r="7.1" fill="url(#gg)" opacity="0.55"/><circle cx="248.66" cy="214.48" r="5.7" fill="url(#gg)"/><circle cx="248.66" cy="214.28" r="3.35" fill="#246a24"/><circle cx="270.04" cy="214.58" r="7.1" fill="url(#hg)" opacity="0.55"/><circle cx="270.04" cy="214.48" r="5.7" fill="url(#hg)"/><circle cx="270.04" cy="214.28" r="3.35" fill="#363636"/><circle cx="291.42" cy="214.58" r="7.1" fill="url(#hg)" opacity="0.55"/><circle cx="291.42" cy="214.48" r="5.7" fill="url(#hg)"/><circle cx="291.42" cy="214.28" r="3.35" fill="#363636"/><circle cx="312.80" cy="214.58" r="7.1" fill="url(#hg)" opacity="0.55"/><circle cx="312.80" cy="214.48" r="5.7" fill="url(#hg)"/><circle cx="312.80" cy="214.28" r="3.35" fill="#363636"/><circle cx="334.18" cy="214.58" r="7.1" fill="url(#hg)" opacity="0.55"/><circle cx="334.18" cy="214.48" r="5.7" fill="url(#hg)"/><circle cx="334.18" cy="214.28" r="3.35" fill="#363636"/><circle cx="355.56" cy="214.58" r="7.1" fill="url(#hg)" opacity="0.55"/><circle cx="355.56" cy="214.48" r="5.7" fill="url(#hg)"/><circle cx="355.56" cy="214.28" r="3.35" fill="#363636"/><circle cx="376.94" cy="214.58" r="7.1" fill="url(#hg)" opacity="0.55"/><circle cx="376.94" cy="214.48" r="5.7" fill="url(#hg)"/><circle cx="376.94" cy="214.28" r="3.35" fill="#363636"/><circle cx="398.32" cy="214.58" r="7.1" fill="url(#hg)" opacity="0.55"/><circle cx="398.32" cy="214.48" r="5.7" fill="url(#hg)"/><circle cx="398.32" cy="214.28" r="3.35" fill="#363636"/><circle cx="419.70" cy="214.58" r="7.1" fill="url(#hg)" opacity="0.55"/><circle cx="419.70" cy="214.48" r="5.7" fill="url(#hg)"/><circle cx="419.70" cy="214.28" r="3.35" fill="#363636"/><circle cx="441.08" cy="214.58" r="7.1" fill="url(#hg)" opacity="0.55"/><circle cx="441.08" cy="214.48" r="5.7" fill="url(#hg)"/><circle cx="441.08" cy="214.28" r="3.35" fill="#363636"/><circle cx="462.46" cy="214.58" r="7.1" fill="url(#hg)" opacity="0.55"/><circle cx="462.46" cy="214.48" r="5.7" fill="url(#hg)"/><circle cx="462.46" cy="214.28" r="3.35" fill="#363636"/><circle cx="483.84" cy="214.58" r="7.1" fill="url(#gg)" opacity="0.55"/><circle cx="483.84" cy="214.48" r="5.7" fill="url(#gg)"/><circle cx="483.84" cy="214.28" r="3.35" fill="#246a24"/><circle cx="505.22" cy="214.58" r="7.1" fill="url(#gg)" opacity="0.55"/><circle cx="505.22" cy="214.48" r="5.7" fill="url(#gg)"/><circle cx="505.22" cy="214.28" r="3.35" fill="#246a24"/><circle cx="526.60" cy="214.58" r="7.1" fill="url(#gg)" opacity="0.55"/><circle cx="526.60" cy="214.48" r="5.7" fill="url(#gg)"/><circle cx="526.60" cy="214.28" r="3.35" fill="#246a24"/><circle cx="547.98" cy="214.58" r="7.1" fill="url(#gg)" opacity="0.55"/><circle cx="547.98" cy="214.48" r="5.7" fill="url(#gg)"/><circle cx="547.98" cy="214.28" r="3.35" fill="#246a24"/><circle cx="569.36" cy="214.58" r="7.1" fill="url(#hg)" opacity="0.55"/><circle cx="569.36" cy="214.48" r="5.7" fill="url(#hg)"/><circle cx="569.36" cy="214.28" r="3.35" fill="#363636"/><circle cx="590.74" cy="214.58" r="7.1" fill="url(#hg)" opacity="0.55"/><circle cx="590.74" cy="214.48" r="5.7" fill="url(#hg)"/><circle cx="590.74" cy="214.28" r="3.35" fill="#363636"/><circle cx="612.12" cy="214.58" r="7.1" fill="url(#hg)" opacity="0.55"/><circle cx="612.12" cy="214.48" r="5.7" fill="url(#hg)"/><circle cx="612.12" cy="214.28" r="3.35" fill="#363636"/><circle cx="633.50" cy="214.58" r="7.1" fill="url(#hg)" opacity="0.55"/><circle cx="633.50" cy="214.48" r="5.7" fill="url(#hg)"/><circle cx="633.50" cy="214.28" r="3.35" fill="#363636"/><circle cx="654.88" cy="214.58" r="7.1" fill="url(#hg)" opacity="0.55"/><circle cx="654.88" cy="214.48" r="5.7" fill="url(#hg)"/><circle cx="654.88" cy="214.28" r="3.35" fill="#363636"/><circle cx="676.26" cy="214.58" r="7.1" fill="url(#hg)" opacity="0.55"/><circle cx="676.26" cy="214.48" r="5.7" fill="url(#hg)"/><circle cx="676.26" cy="214.28" r="3.35" fill="#363636"/><circle cx="56.24" cy="235.96" r="7.1" fill="url(#hg)" opacity="0.55"/><circle cx="56.24" cy="235.86" r="5.7" fill="url(#hg)"/><circle cx="56.24" cy="235.66" r="3.35" fill="#363636"/><circle cx="77.62" cy="235.96" r="7.1" fill="url(#hg)" opacity="0.55"/><circle cx="77.62" cy="235.86" r="5.7" fill="url(#hg)"/><circle cx="77.62" cy="235.66" r="3.35" fill="#363636"/><circle cx="99.00" cy="235.96" r="7.1" fill="url(#gg)" opacity="0.55"/><circle cx="99.00" cy="235.86" r="5.7" fill="url(#gg)"/><circle cx="99.00" cy="235.66" r="3.35" fill="#246a24"/><circle cx="120.38" cy="235.96" r="7.1" fill="url(#gg)" opacity="0.55"/><circle cx="120.38" cy="235.86" r="5.7" fill="url(#gg)"/><circle cx="120.38" cy="235.66" r="3.35" fill="#246a24"/><circle cx="141.76" cy="235.96" r="7.1" fill="url(#gg)" opacity="0.55"/><circle cx="141.76" cy="235.86" r="5.7" fill="url(#gg)"/><circle cx="141.76" cy="235.66" r="3.35" fill="#246a24"/><circle cx="163.14" cy="235.96" r="7.1" fill="url(#gg)" opacity="0.55"/><circle cx="163.14" cy="235.86" r="5.7" fill="url(#gg)"/><circle cx="163.14" cy="235.66" r="3.35" fill="#246a24"/><circle cx="184.52" cy="235.96" r="7.1" fill="url(#gg)" opacity="0.55"/><circle cx="184.52" cy="235.86" r="5.7" fill="url(#gg)"/><circle cx="184.52" cy="235.66" r="3.35" fill="#246a24"/><circle cx="205.90" cy="235.96" r="7.1" fill="url(#gg)" opacity="0.55"/><circle cx="205.90" cy="235.86" r="5.7" fill="url(#gg)"/><circle cx="205.90" cy="235.66" r="3.35" fill="#246a24"/><circle cx="227.28" cy="235.96" r="7.1" fill="url(#gg)" opacity="0.55"/><circle cx="227.28" cy="235.86" r="5.7" fill="url(#gg)"/><circle cx="227.28" cy="235.66" r="3.35" fill="#246a24"/><circle cx="248.66" cy="235.96" r="7.1" fill="url(#gg)" opacity="0.55"/><circle cx="248.66" cy="235.86" r="5.7" fill="url(#gg)"/><circle cx="248.66" cy="235.66" r="3.35" fill="#246a24"/><circle cx="270.04" cy="235.96" r="7.1" fill="url(#hg)" opacity="0.55"/><circle cx="270.04" cy="235.86" r="5.7" fill="url(#hg)"/><circle cx="270.04" cy="235.66" r="3.35" fill="#363636"/><circle cx="291.42" cy="235.96" r="7.1" fill="url(#hg)" opacity="0.55"/><circle cx="291.42" cy="235.86" r="5.7" fill="url(#hg)"/><circle cx="291.42" cy="235.66" r="3.35" fill="#363636"/><circle cx="312.80" cy="235.96" r="7.1" fill="url(#hg)" opacity="0.55"/><circle cx="312.80" cy="235.86" r="5.7" fill="url(#hg)"/><circle cx="312.80" cy="235.66" r="3.35" fill="#363636"/><circle cx="334.18" cy="235.96" r="7.1" fill="url(#hg)" opacity="0.55"/><circle cx="334.18" cy="235.86" r="5.7" fill="url(#hg)"/><circle cx="334.18" cy="235.66" r="3.35" fill="#363636"/><circle cx="355.56" cy="235.96" r="7.1" fill="url(#hg)" opacity="0.55"/><circle cx="355.56" cy="235.86" r="5.7" fill="url(#hg)"/><circle cx="355.56" cy="235.66" r="3.35" fill="#363636"/><circle cx="376.94" cy="235.96" r="7.1" fill="url(#hg)" opacity="0.55"/><circle cx="376.94" cy="235.86" r="5.7" fill="url(#hg)"/><circle cx="376.94" cy="235.66" r="3.35" fill="#363636"/><circle cx="398.32" cy="235.96" r="7.1" fill="url(#hg)" opacity="0.55"/><circle cx="398.32" cy="235.86" r="5.7" fill="url(#hg)"/><circle cx="398.32" cy="235.66" r="3.35" fill="#363636"/><circle cx="419.70" cy="235.96" r="7.1" fill="url(#hg)" opacity="0.55"/><circle cx="419.70" cy="235.86" r="5.7" fill="url(#hg)"/><circle cx="419.70" cy="235.66" r="3.35" fill="#363636"/><circle cx="441.08" cy="235.96" r="7.1" fill="url(#hg)" opacity="0.55"/><circle cx="441.08" cy="235.86" r="5.7" fill="url(#hg)"/><circle cx="441.08" cy="235.66" r="3.35" fill="#363636"/><circle cx="462.46" cy="235.96" r="7.1" fill="url(#hg)" opacity="0.55"/><circle cx="462.46" cy="235.86" r="5.7" fill="url(#hg)"/><circle cx="462.46" cy="235.66" r="3.35" fill="#363636"/><circle cx="483.84" cy="235.96" r="7.1" fill="url(#gg)" opacity="0.55"/><circle cx="483.84" cy="235.86" r="5.7" fill="url(#gg)"/><circle cx="483.84" cy="235.66" r="3.35" fill="#246a24"/><circle cx="505.22" cy="235.96" r="7.1" fill="url(#gg)" opacity="0.55"/><circle cx="505.22" cy="235.86" r="5.7" fill="url(#gg)"/><circle cx="505.22" cy="235.66" r="3.35" fill="#246a24"/><circle cx="526.60" cy="235.96" r="7.1" fill="url(#gg)" opacity="0.55"/><circle cx="526.60" cy="235.86" r="5.7" fill="url(#gg)"/><circle cx="526.60" cy="235.66" r="3.35" fill="#246a24"/><circle cx="547.98" cy="235.96" r="7.1" fill="url(#gg)" opacity="0.55"/><circle cx="547.98" cy="235.86" r="5.7" fill="url(#gg)"/><circle cx="547.98" cy="235.66" r="3.35" fill="#246a24"/><circle cx="569.36" cy="235.96" r="7.1" fill="url(#hg)" opacity="0.55"/><circle cx="569.36" cy="235.86" r="5.7" fill="url(#hg)"/><circle cx="569.36" cy="235.66" r="3.35" fill="#363636"/><circle cx="590.74" cy="235.96" r="7.1" fill="url(#hg)" opacity="0.55"/><circle cx="590.74" cy="235.86" r="5.7" fill="url(#hg)"/><circle cx="590.74" cy="235.66" r="3.35" fill="#363636"/><circle cx="612.12" cy="235.96" r="7.1" fill="url(#hg)" opacity="0.55"/><circle cx="612.12" cy="235.86" r="5.7" fill="url(#hg)"/><circle cx="612.12" cy="235.66" r="3.35" fill="#363636"/><circle cx="633.50" cy="235.96" r="7.1" fill="url(#hg)" opacity="0.55"/><circle cx="633.50" cy="235.86" r="5.7" fill="url(#hg)"/><circle cx="633.50" cy="235.66" r="3.35" fill="#363636"/><circle cx="654.88" cy="235.96" r="7.1" fill="url(#hg)" opacity="0.55"/><circle cx="654.88" cy="235.86" r="5.7" fill="url(#hg)"/><circle cx="654.88" cy="235.66" r="3.35" fill="#363636"/><circle cx="676.26" cy="235.96" r="7.1" fill="url(#hg)" opacity="0.55"/><circle cx="676.26" cy="235.86" r="5.7" fill="url(#hg)"/><circle cx="676.26" cy="235.66" r="3.35" fill="#363636"/><circle cx="56.24" cy="257.34" r="7.1" fill="url(#hg)" opacity="0.55"/><circle cx="56.24" cy="257.24" r="5.7" fill="url(#hg)"/><circle cx="56.24" cy="257.04" r="3.35" fill="#363636"/><circle cx="77.62" cy="257.34" r="7.1" fill="url(#hg)" opacity="0.55"/><circle cx="77.62" cy="257.24" r="5.7" fill="url(#hg)"/><circle cx="77.62" cy="257.04" r="3.35" fill="#363636"/><circle cx="99.00" cy="257.34" r="7.1" fill="url(#gg)" opacity="0.55"/><circle cx="99.00" cy="257.24" r="5.7" fill="url(#gg)"/><circle cx="99.00" cy="257.04" r="3.35" fill="#246a24"/><circle cx="120.38" cy="257.34" r="7.1" fill="url(#gg)" opacity="0.55"/><circle cx="120.38" cy="257.24" r="5.7" fill="url(#gg)"/><circle cx="120.38" cy="257.04" r="3.35" fill="#246a24"/><circle cx="141.76" cy="257.34" r="7.1" fill="url(#gg)" opacity="0.55"/><circle cx="141.76" cy="257.24" r="5.7" fill="url(#gg)"/><circle cx="141.76" cy="257.04" r="3.35" fill="#246a24"/><circle cx="163.14" cy="257.34" r="7.1" fill="url(#gg)" opacity="0.55"/><circle cx="163.14" cy="257.24" r="5.7" fill="url(#gg)"/><circle cx="163.14" cy="257.04" r="3.35" fill="#246a24"/><circle cx="184.52" cy="257.34" r="7.1" fill="url(#gg)" opacity="0.55"/><circle cx="184.52" cy="257.24" r="5.7" fill="url(#gg)"/><circle cx="184.52" cy="257.04" r="3.35" fill="#246a24"/><circle cx="205.90" cy="257.34" r="7.1" fill="url(#gg)" opacity="0.55"/><circle cx="205.90" cy="257.24" r="5.7" fill="url(#gg)"/><circle cx="205.90" cy="257.04" r="3.35" fill="#246a24"/><circle cx="227.28" cy="257.34" r="7.1" fill="url(#gg)" opacity="0.55"/><circle cx="227.28" cy="257.24" r="5.7" fill="url(#gg)"/><circle cx="227.28" cy="257.04" r="3.35" fill="#246a24"/><circle cx="248.66" cy="257.34" r="7.1" fill="url(#gg)" opacity="0.55"/><circle cx="248.66" cy="257.24" r="5.7" fill="url(#gg)"/><circle cx="248.66" cy="257.04" r="3.35" fill="#246a24"/><circle cx="270.04" cy="257.34" r="7.1" fill="url(#hg)" opacity="0.55"/><circle cx="270.04" cy="257.24" r="5.7" fill="url(#hg)"/><circle cx="270.04" cy="257.04" r="3.35" fill="#363636"/><circle cx="291.42" cy="257.34" r="7.1" fill="url(#hg)" opacity="0.55"/><circle cx="291.42" cy="257.24" r="5.7" fill="url(#hg)"/><circle cx="291.42" cy="257.04" r="3.35" fill="#363636"/><circle cx="312.80" cy="257.34" r="7.1" fill="url(#hg)" opacity="0.55"/><circle cx="312.80" cy="257.24" r="5.7" fill="url(#hg)"/><circle cx="312.80" cy="257.04" r="3.35" fill="#363636"/><circle cx="334.18" cy="257.34" r="7.1" fill="url(#hg)" opacity="0.55"/><circle cx="334.18" cy="257.24" r="5.7" fill="url(#hg)"/><circle cx="334.18" cy="257.04" r="3.35" fill="#363636"/><circle cx="355.56" cy="257.34" r="7.1" fill="url(#hg)" opacity="0.55"/><circle cx="355.56" cy="257.24" r="5.7" fill="url(#hg)"/><circle cx="355.56" cy="257.04" r="3.35" fill="#363636"/><circle cx="376.94" cy="257.34" r="7.1" fill="url(#hg)" opacity="0.55"/><circle cx="376.94" cy="257.24" r="5.7" fill="url(#hg)"/><circle cx="376.94" cy="257.04" r="3.35" fill="#363636"/><circle cx="398.32" cy="257.34" r="7.1" fill="url(#hg)" opacity="0.55"/><circle cx="398.32" cy="257.24" r="5.7" fill="url(#hg)"/><circle cx="398.32" cy="257.04" r="3.35" fill="#363636"/><circle cx="419.70" cy="257.34" r="7.1" fill="url(#hg)" opacity="0.55"/><circle cx="419.70" cy="257.24" r="5.7" fill="url(#hg)"/><circle cx="419.70" cy="257.04" r="3.35" fill="#363636"/><circle cx="441.08" cy="257.34" r="7.1" fill="url(#hg)" opacity="0.55"/><circle cx="441.08" cy="257.24" r="5.7" fill="url(#hg)"/><circle cx="441.08" cy="257.04" r="3.35" fill="#363636"/><circle cx="462.46" cy="257.34" r="7.1" fill="url(#hg)" opacity="0.55"/><circle cx="462.46" cy="257.24" r="5.7" fill="url(#hg)"/><circle cx="462.46" cy="257.04" r="3.35" fill="#363636"/><circle cx="483.84" cy="257.34" r="7.1" fill="url(#gg)" opacity="0.55"/><circle cx="483.84" cy="257.24" r="5.7" fill="url(#gg)"/><circle cx="483.84" cy="257.04" r="3.35" fill="#246a24"/><circle cx="505.22" cy="257.34" r="7.1" fill="url(#gg)" opacity="0.55"/><circle cx="505.22" cy="257.24" r="5.7" fill="url(#gg)"/><circle cx="505.22" cy="257.04" r="3.35" fill="#246a24"/><circle cx="526.60" cy="257.34" r="7.1" fill="url(#gg)" opacity="0.55"/><circle cx="526.60" cy="257.24" r="5.7" fill="url(#gg)"/><circle cx="526.60" cy="257.04" r="3.35" fill="#246a24"/><circle cx="547.98" cy="257.34" r="7.1" fill="url(#gg)" opacity="0.55"/><circle cx="547.98" cy="257.24" r="5.7" fill="url(#gg)"/><circle cx="547.98" cy="257.04" r="3.35" fill="#246a24"/><circle cx="569.36" cy="257.34" r="7.1" fill="url(#hg)" opacity="0.55"/><circle cx="569.36" cy="257.24" r="5.7" fill="url(#hg)"/><circle cx="569.36" cy="257.04" r="3.35" fill="#363636"/><circle cx="590.74" cy="257.34" r="7.1" fill="url(#hg)" opacity="0.55"/><circle cx="590.74" cy="257.24" r="5.7" fill="url(#hg)"/><circle cx="590.74" cy="257.04" r="3.35" fill="#363636"/><circle cx="612.12" cy="257.34" r="7.1" fill="url(#hg)" opacity="0.55"/><circle cx="612.12" cy="257.24" r="5.7" fill="url(#hg)"/><circle cx="612.12" cy="257.04" r="3.35" fill="#363636"/><circle cx="633.50" cy="257.34" r="7.1" fill="url(#hg)" opacity="0.55"/><circle cx="633.50" cy="257.24" r="5.7" fill="url(#hg)"/><circle cx="633.50" cy="257.04" r="3.35" fill="#363636"/><circle cx="654.88" cy="257.34" r="7.1" fill="url(#hg)" opacity="0.55"/><circle cx="654.88" cy="257.24" r="5.7" fill="url(#hg)"/><circle cx="654.88" cy="257.04" r="3.35" fill="#363636"/><circle cx="676.26" cy="257.34" r="7.1" fill="url(#hg)" opacity="0.55"/><circle cx="676.26" cy="257.24" r="5.7" fill="url(#hg)"/><circle cx="676.26" cy="257.04" r="3.35" fill="#363636"/><circle cx="56.24" cy="321.48" r="7.1" fill="url(#hg)" opacity="0.55"/><circle cx="56.24" cy="321.38" r="5.7" fill="url(#hg)"/><circle cx="56.24" cy="321.18" r="3.35" fill="#363636"/><circle cx="77.62" cy="321.48" r="7.1" fill="url(#hg)" opacity="0.55"/><circle cx="77.62" cy="321.38" r="5.7" fill="url(#hg)"/><circle cx="77.62" cy="321.18" r="3.35" fill="#363636"/><circle cx="99.00" cy="321.48" r="7.1" fill="url(#gg)" opacity="0.55"/><circle cx="99.00" cy="321.38" r="5.7" fill="url(#gg)"/><circle cx="99.00" cy="321.18" r="3.35" fill="#246a24"/><circle cx="120.38" cy="321.48" r="7.1" fill="url(#gg)" opacity="0.55"/><circle cx="120.38" cy="321.38" r="5.7" fill="url(#gg)"/><circle cx="120.38" cy="321.18" r="3.35" fill="#246a24"/><circle cx="141.76" cy="321.48" r="7.1" fill="url(#gg)" opacity="0.55"/><circle cx="141.76" cy="321.38" r="5.7" fill="url(#gg)"/><circle cx="141.76" cy="321.18" r="3.35" fill="#246a24"/><circle cx="163.14" cy="321.48" r="7.1" fill="url(#gg)" opacity="0.55"/><circle cx="163.14" cy="321.38" r="5.7" fill="url(#gg)"/><circle cx="163.14" cy="321.18" r="3.35" fill="#246a24"/><circle cx="184.52" cy="321.48" r="7.1" fill="url(#gg)" opacity="0.55"/><circle cx="184.52" cy="321.38" r="5.7" fill="url(#gg)"/><circle cx="184.52" cy="321.18" r="3.35" fill="#246a24"/><circle cx="205.90" cy="321.48" r="7.1" fill="url(#gg)" opacity="0.55"/><circle cx="205.90" cy="321.38" r="5.7" fill="url(#gg)"/><circle cx="205.90" cy="321.18" r="3.35" fill="#246a24"/><circle cx="227.28" cy="321.48" r="7.1" fill="url(#gg)" opacity="0.55"/><circle cx="227.28" cy="321.38" r="5.7" fill="url(#gg)"/><circle cx="227.28" cy="321.18" r="3.35" fill="#246a24"/><circle cx="248.66" cy="321.48" r="7.1" fill="url(#gg)" opacity="0.55"/><circle cx="248.66" cy="321.38" r="5.7" fill="url(#gg)"/><circle cx="248.66" cy="321.18" r="3.35" fill="#246a24"/><circle cx="270.04" cy="321.48" r="7.1" fill="url(#hg)" opacity="0.55"/><circle cx="270.04" cy="321.38" r="5.7" fill="url(#hg)"/><circle cx="270.04" cy="321.18" r="3.35" fill="#363636"/><circle cx="291.42" cy="321.48" r="7.1" fill="url(#hg)" opacity="0.55"/><circle cx="291.42" cy="321.38" r="5.7" fill="url(#hg)"/><circle cx="291.42" cy="321.18" r="3.35" fill="#363636"/><circle cx="312.80" cy="321.48" r="7.1" fill="url(#hg)" opacity="0.55"/><circle cx="312.80" cy="321.38" r="5.7" fill="url(#hg)"/><circle cx="312.80" cy="321.18" r="3.35" fill="#363636"/><circle cx="334.18" cy="321.48" r="7.1" fill="url(#hg)" opacity="0.55"/><circle cx="334.18" cy="321.38" r="5.7" fill="url(#hg)"/><circle cx="334.18" cy="321.18" r="3.35" fill="#363636"/><circle cx="355.56" cy="321.48" r="7.1" fill="url(#hg)" opacity="0.55"/><circle cx="355.56" cy="321.38" r="5.7" fill="url(#hg)"/><circle cx="355.56" cy="321.18" r="3.35" fill="#363636"/><circle cx="376.94" cy="321.48" r="7.1" fill="url(#hg)" opacity="0.55"/><circle cx="376.94" cy="321.38" r="5.7" fill="url(#hg)"/><circle cx="376.94" cy="321.18" r="3.35" fill="#363636"/><circle cx="398.32" cy="321.48" r="7.1" fill="url(#hg)" opacity="0.55"/><circle cx="398.32" cy="321.38" r="5.7" fill="url(#hg)"/><circle cx="398.32" cy="321.18" r="3.35" fill="#363636"/><circle cx="419.70" cy="321.48" r="7.1" fill="url(#hg)" opacity="0.55"/><circle cx="419.70" cy="321.38" r="5.7" fill="url(#hg)"/><circle cx="419.70" cy="321.18" r="3.35" fill="#363636"/><circle cx="441.08" cy="321.48" r="7.1" fill="url(#hg)" opacity="0.55"/><circle cx="441.08" cy="321.38" r="5.7" fill="url(#hg)"/><circle cx="441.08" cy="321.18" r="3.35" fill="#363636"/><circle cx="462.46" cy="321.48" r="7.1" fill="url(#hg)" opacity="0.55"/><circle cx="462.46" cy="321.38" r="5.7" fill="url(#hg)"/><circle cx="462.46" cy="321.18" r="3.35" fill="#363636"/><circle cx="483.84" cy="321.48" r="7.1" fill="url(#gg)" opacity="0.55"/><circle cx="483.84" cy="321.38" r="5.7" fill="url(#gg)"/><circle cx="483.84" cy="321.18" r="3.35" fill="#246a24"/><circle cx="505.22" cy="321.48" r="7.1" fill="url(#gg)" opacity="0.55"/><circle cx="505.22" cy="321.38" r="5.7" fill="url(#gg)"/><circle cx="505.22" cy="321.18" r="3.35" fill="#246a24"/><circle cx="526.60" cy="321.48" r="7.1" fill="url(#gg)" opacity="0.55"/><circle cx="526.60" cy="321.38" r="5.7" fill="url(#gg)"/><circle cx="526.60" cy="321.18" r="3.35" fill="#246a24"/><circle cx="547.98" cy="321.48" r="7.1" fill="url(#gg)" opacity="0.55"/><circle cx="547.98" cy="321.38" r="5.7" fill="url(#gg)"/><circle cx="547.98" cy="321.18" r="3.35" fill="#246a24"/><circle cx="569.36" cy="321.48" r="7.1" fill="url(#hg)" opacity="0.55"/><circle cx="569.36" cy="321.38" r="5.7" fill="url(#hg)"/><circle cx="569.36" cy="321.18" r="3.35" fill="#363636"/><circle cx="590.74" cy="321.48" r="7.1" fill="url(#hg)" opacity="0.55"/><circle cx="590.74" cy="321.38" r="5.7" fill="url(#hg)"/><circle cx="590.74" cy="321.18" r="3.35" fill="#363636"/><circle cx="612.12" cy="321.48" r="7.1" fill="url(#hg)" opacity="0.55"/><circle cx="612.12" cy="321.38" r="5.7" fill="url(#hg)"/><circle cx="612.12" cy="321.18" r="3.35" fill="#363636"/><circle cx="633.50" cy="321.48" r="7.1" fill="url(#hg)" opacity="0.55"/><circle cx="633.50" cy="321.38" r="5.7" fill="url(#hg)"/><circle cx="633.50" cy="321.18" r="3.35" fill="#363636"/><circle cx="654.88" cy="321.48" r="7.1" fill="url(#hg)" opacity="0.55"/><circle cx="654.88" cy="321.38" r="5.7" fill="url(#hg)"/><circle cx="654.88" cy="321.18" r="3.35" fill="#363636"/><circle cx="676.26" cy="321.48" r="7.1" fill="url(#hg)" opacity="0.55"/><circle cx="676.26" cy="321.38" r="5.7" fill="url(#hg)"/><circle cx="676.26" cy="321.18" r="3.35" fill="#363636"/><circle cx="56.24" cy="342.86" r="7.1" fill="url(#hg)" opacity="0.55"/><circle cx="56.24" cy="342.76" r="5.7" fill="url(#hg)"/><circle cx="56.24" cy="342.56" r="3.35" fill="#363636"/><circle cx="77.62" cy="342.86" r="7.1" fill="url(#hg)" opacity="0.55"/><circle cx="77.62" cy="342.76" r="5.7" fill="url(#hg)"/><circle cx="77.62" cy="342.56" r="3.35" fill="#363636"/><circle cx="99.00" cy="342.86" r="7.1" fill="url(#gg)" opacity="0.55"/><circle cx="99.00" cy="342.76" r="5.7" fill="url(#gg)"/><circle cx="99.00" cy="342.56" r="3.35" fill="#246a24"/><circle cx="120.38" cy="342.86" r="7.1" fill="url(#gg)" opacity="0.55"/><circle cx="120.38" cy="342.76" r="5.7" fill="url(#gg)"/><circle cx="120.38" cy="342.56" r="3.35" fill="#246a24"/><circle cx="141.76" cy="342.86" r="7.1" fill="url(#gg)" opacity="0.55"/><circle cx="141.76" cy="342.76" r="5.7" fill="url(#gg)"/><circle cx="141.76" cy="342.56" r="3.35" fill="#246a24"/><circle cx="163.14" cy="342.86" r="7.1" fill="url(#gg)" opacity="0.55"/><circle cx="163.14" cy="342.76" r="5.7" fill="url(#gg)"/><circle cx="163.14" cy="342.56" r="3.35" fill="#246a24"/><circle cx="184.52" cy="342.86" r="7.1" fill="url(#gg)" opacity="0.55"/><circle cx="184.52" cy="342.76" r="5.7" fill="url(#gg)"/><circle cx="184.52" cy="342.56" r="3.35" fill="#246a24"/><circle cx="205.90" cy="342.86" r="7.1" fill="url(#gg)" opacity="0.55"/><circle cx="205.90" cy="342.76" r="5.7" fill="url(#gg)"/><circle cx="205.90" cy="342.56" r="3.35" fill="#246a24"/><circle cx="227.28" cy="342.86" r="7.1" fill="url(#gg)" opacity="0.55"/><circle cx="227.28" cy="342.76" r="5.7" fill="url(#gg)"/><circle cx="227.28" cy="342.56" r="3.35" fill="#246a24"/><circle cx="248.66" cy="342.86" r="7.1" fill="url(#gg)" opacity="0.55"/><circle cx="248.66" cy="342.76" r="5.7" fill="url(#gg)"/><circle cx="248.66" cy="342.56" r="3.35" fill="#246a24"/><circle cx="270.04" cy="342.86" r="7.1" fill="url(#hg)" opacity="0.55"/><circle cx="270.04" cy="342.76" r="5.7" fill="url(#hg)"/><circle cx="270.04" cy="342.56" r="3.35" fill="#363636"/><circle cx="291.42" cy="342.86" r="7.1" fill="url(#hg)" opacity="0.55"/><circle cx="291.42" cy="342.76" r="5.7" fill="url(#hg)"/><circle cx="291.42" cy="342.56" r="3.35" fill="#363636"/><circle cx="312.80" cy="342.86" r="7.1" fill="url(#hg)" opacity="0.55"/><circle cx="312.80" cy="342.76" r="5.7" fill="url(#hg)"/><circle cx="312.80" cy="342.56" r="3.35" fill="#363636"/><circle cx="334.18" cy="342.86" r="7.1" fill="url(#hg)" opacity="0.55"/><circle cx="334.18" cy="342.76" r="5.7" fill="url(#hg)"/><circle cx="334.18" cy="342.56" r="3.35" fill="#363636"/><circle cx="355.56" cy="342.86" r="7.1" fill="url(#hg)" opacity="0.55"/><circle cx="355.56" cy="342.76" r="5.7" fill="url(#hg)"/><circle cx="355.56" cy="342.56" r="3.35" fill="#363636"/><circle cx="376.94" cy="342.86" r="7.1" fill="url(#hg)" opacity="0.55"/><circle cx="376.94" cy="342.76" r="5.7" fill="url(#hg)"/><circle cx="376.94" cy="342.56" r="3.35" fill="#363636"/><circle cx="398.32" cy="342.86" r="7.1" fill="url(#hg)" opacity="0.55"/><circle cx="398.32" cy="342.76" r="5.7" fill="url(#hg)"/><circle cx="398.32" cy="342.56" r="3.35" fill="#363636"/><circle cx="419.70" cy="342.86" r="7.1" fill="url(#hg)" opacity="0.55"/><circle cx="419.70" cy="342.76" r="5.7" fill="url(#hg)"/><circle cx="419.70" cy="342.56" r="3.35" fill="#363636"/><circle cx="441.08" cy="342.86" r="7.1" fill="url(#hg)" opacity="0.55"/><circle cx="441.08" cy="342.76" r="5.7" fill="url(#hg)"/><circle cx="441.08" cy="342.56" r="3.35" fill="#363636"/><circle cx="462.46" cy="342.86" r="7.1" fill="url(#hg)" opacity="0.55"/><circle cx="462.46" cy="342.76" r="5.7" fill="url(#hg)"/><circle cx="462.46" cy="342.56" r="3.35" fill="#363636"/><circle cx="483.84" cy="342.86" r="7.1" fill="url(#gg)" opacity="0.55"/><circle cx="483.84" cy="342.76" r="5.7" fill="url(#gg)"/><circle cx="483.84" cy="342.56" r="3.35" fill="#246a24"/><circle cx="505.22" cy="342.86" r="7.1" fill="url(#gg)" opacity="0.55"/><circle cx="505.22" cy="342.76" r="5.7" fill="url(#gg)"/><circle cx="505.22" cy="342.56" r="3.35" fill="#246a24"/><circle cx="526.60" cy="342.86" r="7.1" fill="url(#gg)" opacity="0.55"/><circle cx="526.60" cy="342.76" r="5.7" fill="url(#gg)"/><circle cx="526.60" cy="342.56" r="3.35" fill="#246a24"/><circle cx="547.98" cy="342.86" r="7.1" fill="url(#gg)" opacity="0.55"/><circle cx="547.98" cy="342.76" r="5.7" fill="url(#gg)"/><circle cx="547.98" cy="342.56" r="3.35" fill="#246a24"/><circle cx="569.36" cy="342.86" r="7.1" fill="url(#hg)" opacity="0.55"/><circle cx="569.36" cy="342.76" r="5.7" fill="url(#hg)"/><circle cx="569.36" cy="342.56" r="3.35" fill="#363636"/><circle cx="590.74" cy="342.86" r="7.1" fill="url(#hg)" opacity="0.55"/><circle cx="590.74" cy="342.76" r="5.7" fill="url(#hg)"/><circle cx="590.74" cy="342.56" r="3.35" fill="#363636"/><circle cx="612.12" cy="342.86" r="7.1" fill="url(#hg)" opacity="0.55"/><circle cx="612.12" cy="342.76" r="5.7" fill="url(#hg)"/><circle cx="612.12" cy="342.56" r="3.35" fill="#363636"/><circle cx="633.50" cy="342.86" r="7.1" fill="url(#hg)" opacity="0.55"/><circle cx="633.50" cy="342.76" r="5.7" fill="url(#hg)"/><circle cx="633.50" cy="342.56" r="3.35" fill="#363636"/><circle cx="654.88" cy="342.86" r="7.1" fill="url(#hg)" opacity="0.55"/><circle cx="654.88" cy="342.76" r="5.7" fill="url(#hg)"/><circle cx="654.88" cy="342.56" r="3.35" fill="#363636"/><circle cx="676.26" cy="342.86" r="7.1" fill="url(#hg)" opacity="0.55"/><circle cx="676.26" cy="342.76" r="5.7" fill="url(#hg)"/><circle cx="676.26" cy="342.56" r="3.35" fill="#363636"/><circle cx="56.24" cy="364.24" r="7.1" fill="url(#hg)" opacity="0.55"/><circle cx="56.24" cy="364.14" r="5.7" fill="url(#hg)"/><circle cx="56.24" cy="363.94" r="3.35" fill="#363636"/><circle cx="77.62" cy="364.24" r="7.1" fill="url(#hg)" opacity="0.55"/><circle cx="77.62" cy="364.14" r="5.7" fill="url(#hg)"/><circle cx="77.62" cy="363.94" r="3.35" fill="#363636"/><circle cx="99.00" cy="364.24" r="7.1" fill="url(#gg)" opacity="0.55"/><circle cx="99.00" cy="364.14" r="5.7" fill="url(#gg)"/><circle cx="99.00" cy="363.94" r="3.35" fill="#246a24"/><circle cx="120.38" cy="364.24" r="7.1" fill="url(#gg)" opacity="0.55"/><circle cx="120.38" cy="364.14" r="5.7" fill="url(#gg)"/><circle cx="120.38" cy="363.94" r="3.35" fill="#246a24"/><circle cx="141.76" cy="364.24" r="7.1" fill="url(#gg)" opacity="0.55"/><circle cx="141.76" cy="364.14" r="5.7" fill="url(#gg)"/><circle cx="141.76" cy="363.94" r="3.35" fill="#246a24"/><circle cx="163.14" cy="364.24" r="7.1" fill="url(#gg)" opacity="0.55"/><circle cx="163.14" cy="364.14" r="5.7" fill="url(#gg)"/><circle cx="163.14" cy="363.94" r="3.35" fill="#246a24"/><circle cx="184.52" cy="364.24" r="7.1" fill="url(#gg)" opacity="0.55"/><circle cx="184.52" cy="364.14" r="5.7" fill="url(#gg)"/><circle cx="184.52" cy="363.94" r="3.35" fill="#246a24"/><circle cx="205.90" cy="364.24" r="7.1" fill="url(#gg)" opacity="0.55"/><circle cx="205.90" cy="364.14" r="5.7" fill="url(#gg)"/><circle cx="205.90" cy="363.94" r="3.35" fill="#246a24"/><circle cx="227.28" cy="364.24" r="7.1" fill="url(#gg)" opacity="0.55"/><circle cx="227.28" cy="364.14" r="5.7" fill="url(#gg)"/><circle cx="227.28" cy="363.94" r="3.35" fill="#246a24"/><circle cx="248.66" cy="364.24" r="7.1" fill="url(#gg)" opacity="0.55"/><circle cx="248.66" cy="364.14" r="5.7" fill="url(#gg)"/><circle cx="248.66" cy="363.94" r="3.35" fill="#246a24"/><circle cx="270.04" cy="364.24" r="7.1" fill="url(#hg)" opacity="0.55"/><circle cx="270.04" cy="364.14" r="5.7" fill="url(#hg)"/><circle cx="270.04" cy="363.94" r="3.35" fill="#363636"/><circle cx="291.42" cy="364.24" r="7.1" fill="url(#hg)" opacity="0.55"/><circle cx="291.42" cy="364.14" r="5.7" fill="url(#hg)"/><circle cx="291.42" cy="363.94" r="3.35" fill="#363636"/><circle cx="312.80" cy="364.24" r="7.1" fill="url(#hg)" opacity="0.55"/><circle cx="312.80" cy="364.14" r="5.7" fill="url(#hg)"/><circle cx="312.80" cy="363.94" r="3.35" fill="#363636"/><circle cx="334.18" cy="364.24" r="7.1" fill="url(#hg)" opacity="0.55"/><circle cx="334.18" cy="364.14" r="5.7" fill="url(#hg)"/><circle cx="334.18" cy="363.94" r="3.35" fill="#363636"/><circle cx="355.56" cy="364.24" r="7.1" fill="url(#hg)" opacity="0.55"/><circle cx="355.56" cy="364.14" r="5.7" fill="url(#hg)"/><circle cx="355.56" cy="363.94" r="3.35" fill="#363636"/><circle cx="376.94" cy="364.24" r="7.1" fill="url(#hg)" opacity="0.55"/><circle cx="376.94" cy="364.14" r="5.7" fill="url(#hg)"/><circle cx="376.94" cy="363.94" r="3.35" fill="#363636"/><circle cx="398.32" cy="364.24" r="7.1" fill="url(#hg)" opacity="0.55"/><circle cx="398.32" cy="364.14" r="5.7" fill="url(#hg)"/><circle cx="398.32" cy="363.94" r="3.35" fill="#363636"/><circle cx="419.70" cy="364.24" r="7.1" fill="url(#hg)" opacity="0.55"/><circle cx="419.70" cy="364.14" r="5.7" fill="url(#hg)"/><circle cx="419.70" cy="363.94" r="3.35" fill="#363636"/><circle cx="441.08" cy="364.24" r="7.1" fill="url(#hg)" opacity="0.55"/><circle cx="441.08" cy="364.14" r="5.7" fill="url(#hg)"/><circle cx="441.08" cy="363.94" r="3.35" fill="#363636"/><circle cx="462.46" cy="364.24" r="7.1" fill="url(#hg)" opacity="0.55"/><circle cx="462.46" cy="364.14" r="5.7" fill="url(#hg)"/><circle cx="462.46" cy="363.94" r="3.35" fill="#363636"/><circle cx="483.84" cy="364.24" r="7.1" fill="url(#gg)" opacity="0.55"/><circle cx="483.84" cy="364.14" r="5.7" fill="url(#gg)"/><circle cx="483.84" cy="363.94" r="3.35" fill="#246a24"/><circle cx="505.22" cy="364.24" r="7.1" fill="url(#gg)" opacity="0.55"/><circle cx="505.22" cy="364.14" r="5.7" fill="url(#gg)"/><circle cx="505.22" cy="363.94" r="3.35" fill="#246a24"/><circle cx="526.60" cy="364.24" r="7.1" fill="url(#gg)" opacity="0.55"/><circle cx="526.60" cy="364.14" r="5.7" fill="url(#gg)"/><circle cx="526.60" cy="363.94" r="3.35" fill="#246a24"/><circle cx="547.98" cy="364.24" r="7.1" fill="url(#gg)" opacity="0.55"/><circle cx="547.98" cy="364.14" r="5.7" fill="url(#gg)"/><circle cx="547.98" cy="363.94" r="3.35" fill="#246a24"/><circle cx="569.36" cy="364.24" r="7.1" fill="url(#hg)" opacity="0.55"/><circle cx="569.36" cy="364.14" r="5.7" fill="url(#hg)"/><circle cx="569.36" cy="363.94" r="3.35" fill="#363636"/><circle cx="590.74" cy="364.24" r="7.1" fill="url(#hg)" opacity="0.55"/><circle cx="590.74" cy="364.14" r="5.7" fill="url(#hg)"/><circle cx="590.74" cy="363.94" r="3.35" fill="#363636"/><circle cx="612.12" cy="364.24" r="7.1" fill="url(#hg)" opacity="0.55"/><circle cx="612.12" cy="364.14" r="5.7" fill="url(#hg)"/><circle cx="612.12" cy="363.94" r="3.35" fill="#363636"/><circle cx="633.50" cy="364.24" r="7.1" fill="url(#hg)" opacity="0.55"/><circle cx="633.50" cy="364.14" r="5.7" fill="url(#hg)"/><circle cx="633.50" cy="363.94" r="3.35" fill="#363636"/><circle cx="654.88" cy="364.24" r="7.1" fill="url(#hg)" opacity="0.55"/><circle cx="654.88" cy="364.14" r="5.7" fill="url(#hg)"/><circle cx="654.88" cy="363.94" r="3.35" fill="#363636"/><circle cx="676.26" cy="364.24" r="7.1" fill="url(#hg)" opacity="0.55"/><circle cx="676.26" cy="364.14" r="5.7" fill="url(#hg)"/><circle cx="676.26" cy="363.94" r="3.35" fill="#363636"/><circle cx="56.24" cy="385.62" r="7.1" fill="url(#hg)" opacity="0.55"/><circle cx="56.24" cy="385.52" r="5.7" fill="url(#hg)"/><circle cx="56.24" cy="385.32" r="3.35" fill="#363636"/><circle cx="77.62" cy="385.62" r="7.1" fill="url(#hg)" opacity="0.55"/><circle cx="77.62" cy="385.52" r="5.7" fill="url(#hg)"/><circle cx="77.62" cy="385.32" r="3.35" fill="#363636"/><circle cx="99.00" cy="385.62" r="7.1" fill="url(#gg)" opacity="0.55"/><circle cx="99.00" cy="385.52" r="5.7" fill="url(#gg)"/><circle cx="99.00" cy="385.32" r="3.35" fill="#246a24"/><circle cx="120.38" cy="385.62" r="7.1" fill="url(#gg)" opacity="0.55"/><circle cx="120.38" cy="385.52" r="5.7" fill="url(#gg)"/><circle cx="120.38" cy="385.32" r="3.35" fill="#246a24"/><circle cx="141.76" cy="385.62" r="7.1" fill="url(#gg)" opacity="0.55"/><circle cx="141.76" cy="385.52" r="5.7" fill="url(#gg)"/><circle cx="141.76" cy="385.32" r="3.35" fill="#246a24"/><circle cx="163.14" cy="385.62" r="7.1" fill="url(#gg)" opacity="0.55"/><circle cx="163.14" cy="385.52" r="5.7" fill="url(#gg)"/><circle cx="163.14" cy="385.32" r="3.35" fill="#246a24"/><circle cx="184.52" cy="385.62" r="7.1" fill="url(#gg)" opacity="0.55"/><circle cx="184.52" cy="385.52" r="5.7" fill="url(#gg)"/><circle cx="184.52" cy="385.32" r="3.35" fill="#246a24"/><circle cx="205.90" cy="385.62" r="7.1" fill="url(#gg)" opacity="0.55"/><circle cx="205.90" cy="385.52" r="5.7" fill="url(#gg)"/><circle cx="205.90" cy="385.32" r="3.35" fill="#246a24"/><circle cx="227.28" cy="385.62" r="7.1" fill="url(#gg)" opacity="0.55"/><circle cx="227.28" cy="385.52" r="5.7" fill="url(#gg)"/><circle cx="227.28" cy="385.32" r="3.35" fill="#246a24"/><circle cx="248.66" cy="385.62" r="7.1" fill="url(#gg)" opacity="0.55"/><circle cx="248.66" cy="385.52" r="5.7" fill="url(#gg)"/><circle cx="248.66" cy="385.32" r="3.35" fill="#246a24"/><circle cx="270.04" cy="385.62" r="7.1" fill="url(#hg)" opacity="0.55"/><circle cx="270.04" cy="385.52" r="5.7" fill="url(#hg)"/><circle cx="270.04" cy="385.32" r="3.35" fill="#363636"/><circle cx="291.42" cy="385.62" r="7.1" fill="url(#hg)" opacity="0.55"/><circle cx="291.42" cy="385.52" r="5.7" fill="url(#hg)"/><circle cx="291.42" cy="385.32" r="3.35" fill="#363636"/><circle cx="312.80" cy="385.62" r="7.1" fill="url(#hg)" opacity="0.55"/><circle cx="312.80" cy="385.52" r="5.7" fill="url(#hg)"/><circle cx="312.80" cy="385.32" r="3.35" fill="#363636"/><circle cx="334.18" cy="385.62" r="7.1" fill="url(#hg)" opacity="0.55"/><circle cx="334.18" cy="385.52" r="5.7" fill="url(#hg)"/><circle cx="334.18" cy="385.32" r="3.35" fill="#363636"/><circle cx="355.56" cy="385.62" r="7.1" fill="url(#hg)" opacity="0.55"/><circle cx="355.56" cy="385.52" r="5.7" fill="url(#hg)"/><circle cx="355.56" cy="385.32" r="3.35" fill="#363636"/><circle cx="376.94" cy="385.62" r="7.1" fill="url(#hg)" opacity="0.55"/><circle cx="376.94" cy="385.52" r="5.7" fill="url(#hg)"/><circle cx="376.94" cy="385.32" r="3.35" fill="#363636"/><circle cx="398.32" cy="385.62" r="7.1" fill="url(#hg)" opacity="0.55"/><circle cx="398.32" cy="385.52" r="5.7" fill="url(#hg)"/><circle cx="398.32" cy="385.32" r="3.35" fill="#363636"/><circle cx="419.70" cy="385.62" r="7.1" fill="url(#hg)" opacity="0.55"/><circle cx="419.70" cy="385.52" r="5.7" fill="url(#hg)"/><circle cx="419.70" cy="385.32" r="3.35" fill="#363636"/><circle cx="441.08" cy="385.62" r="7.1" fill="url(#hg)" opacity="0.55"/><circle cx="441.08" cy="385.52" r="5.7" fill="url(#hg)"/><circle cx="441.08" cy="385.32" r="3.35" fill="#363636"/><circle cx="462.46" cy="385.62" r="7.1" fill="url(#hg)" opacity="0.55"/><circle cx="462.46" cy="385.52" r="5.7" fill="url(#hg)"/><circle cx="462.46" cy="385.32" r="3.35" fill="#363636"/><circle cx="483.84" cy="385.62" r="7.1" fill="url(#gg)" opacity="0.55"/><circle cx="483.84" cy="385.52" r="5.7" fill="url(#gg)"/><circle cx="483.84" cy="385.32" r="3.35" fill="#246a24"/><circle cx="505.22" cy="385.62" r="7.1" fill="url(#gg)" opacity="0.55"/><circle cx="505.22" cy="385.52" r="5.7" fill="url(#gg)"/><circle cx="505.22" cy="385.32" r="3.35" fill="#246a24"/><circle cx="526.60" cy="385.62" r="7.1" fill="url(#gg)" opacity="0.55"/><circle cx="526.60" cy="385.52" r="5.7" fill="url(#gg)"/><circle cx="526.60" cy="385.32" r="3.35" fill="#246a24"/><circle cx="547.98" cy="385.62" r="7.1" fill="url(#gg)" opacity="0.55"/><circle cx="547.98" cy="385.52" r="5.7" fill="url(#gg)"/><circle cx="547.98" cy="385.32" r="3.35" fill="#246a24"/><circle cx="569.36" cy="385.62" r="7.1" fill="url(#hg)" opacity="0.55"/><circle cx="569.36" cy="385.52" r="5.7" fill="url(#hg)"/><circle cx="569.36" cy="385.32" r="3.35" fill="#363636"/><circle cx="590.74" cy="385.62" r="7.1" fill="url(#hg)" opacity="0.55"/><circle cx="590.74" cy="385.52" r="5.7" fill="url(#hg)"/><circle cx="590.74" cy="385.32" r="3.35" fill="#363636"/><circle cx="612.12" cy="385.62" r="7.1" fill="url(#hg)" opacity="0.55"/><circle cx="612.12" cy="385.52" r="5.7" fill="url(#hg)"/><circle cx="612.12" cy="385.32" r="3.35" fill="#363636"/><circle cx="633.50" cy="385.62" r="7.1" fill="url(#hg)" opacity="0.55"/><circle cx="633.50" cy="385.52" r="5.7" fill="url(#hg)"/><circle cx="633.50" cy="385.32" r="3.35" fill="#363636"/><circle cx="654.88" cy="385.62" r="7.1" fill="url(#hg)" opacity="0.55"/><circle cx="654.88" cy="385.52" r="5.7" fill="url(#hg)"/><circle cx="654.88" cy="385.32" r="3.35" fill="#363636"/><circle cx="676.26" cy="385.62" r="7.1" fill="url(#hg)" opacity="0.55"/><circle cx="676.26" cy="385.52" r="5.7" fill="url(#hg)"/><circle cx="676.26" cy="385.32" r="3.35" fill="#363636"/><circle cx="56.24" cy="407.00" r="7.1" fill="url(#hg)" opacity="0.55"/><circle cx="56.24" cy="406.90" r="5.7" fill="url(#hg)"/><circle cx="56.24" cy="406.70" r="3.35" fill="#363636"/><circle cx="77.62" cy="407.00" r="7.1" fill="url(#hg)" opacity="0.55"/><circle cx="77.62" cy="406.90" r="5.7" fill="url(#hg)"/><circle cx="77.62" cy="406.70" r="3.35" fill="#363636"/><circle cx="99.00" cy="407.00" r="7.1" fill="url(#gg)" opacity="0.55"/><circle cx="99.00" cy="406.90" r="5.7" fill="url(#gg)"/><circle cx="99.00" cy="406.70" r="3.35" fill="#246a24"/><circle cx="120.38" cy="407.00" r="7.1" fill="url(#gg)" opacity="0.55"/><circle cx="120.38" cy="406.90" r="5.7" fill="url(#gg)"/><circle cx="120.38" cy="406.70" r="3.35" fill="#246a24"/><circle cx="141.76" cy="407.00" r="7.1" fill="url(#gg)" opacity="0.55"/><circle cx="141.76" cy="406.90" r="5.7" fill="url(#gg)"/><circle cx="141.76" cy="406.70" r="3.35" fill="#246a24"/><circle cx="163.14" cy="407.00" r="7.1" fill="url(#gg)" opacity="0.55"/><circle cx="163.14" cy="406.90" r="5.7" fill="url(#gg)"/><circle cx="163.14" cy="406.70" r="3.35" fill="#246a24"/><circle cx="184.52" cy="407.00" r="7.1" fill="url(#gg)" opacity="0.55"/><circle cx="184.52" cy="406.90" r="5.7" fill="url(#gg)"/><circle cx="184.52" cy="406.70" r="3.35" fill="#246a24"/><circle cx="205.90" cy="407.00" r="7.1" fill="url(#gg)" opacity="0.55"/><circle cx="205.90" cy="406.90" r="5.7" fill="url(#gg)"/><circle cx="205.90" cy="406.70" r="3.35" fill="#246a24"/><circle cx="227.28" cy="407.00" r="7.1" fill="url(#gg)" opacity="0.55"/><circle cx="227.28" cy="406.90" r="5.7" fill="url(#gg)"/><circle cx="227.28" cy="406.70" r="3.35" fill="#246a24"/><circle cx="248.66" cy="407.00" r="7.1" fill="url(#gg)" opacity="0.55"/><circle cx="248.66" cy="406.90" r="5.7" fill="url(#gg)"/><circle cx="248.66" cy="406.70" r="3.35" fill="#246a24"/><circle cx="270.04" cy="407.00" r="7.1" fill="url(#hg)" opacity="0.55"/><circle cx="270.04" cy="406.90" r="5.7" fill="url(#hg)"/><circle cx="270.04" cy="406.70" r="3.35" fill="#363636"/><circle cx="291.42" cy="407.00" r="7.1" fill="url(#hg)" opacity="0.55"/><circle cx="291.42" cy="406.90" r="5.7" fill="url(#hg)"/><circle cx="291.42" cy="406.70" r="3.35" fill="#363636"/><circle cx="312.80" cy="407.00" r="7.1" fill="url(#hg)" opacity="0.55"/><circle cx="312.80" cy="406.90" r="5.7" fill="url(#hg)"/><circle cx="312.80" cy="406.70" r="3.35" fill="#363636"/><circle cx="334.18" cy="407.00" r="7.1" fill="url(#hg)" opacity="0.55"/><circle cx="334.18" cy="406.90" r="5.7" fill="url(#hg)"/><circle cx="334.18" cy="406.70" r="3.35" fill="#363636"/><circle cx="355.56" cy="407.00" r="7.1" fill="url(#hg)" opacity="0.55"/><circle cx="355.56" cy="406.90" r="5.7" fill="url(#hg)"/><circle cx="355.56" cy="406.70" r="3.35" fill="#363636"/><circle cx="376.94" cy="407.00" r="7.1" fill="url(#hg)" opacity="0.55"/><circle cx="376.94" cy="406.90" r="5.7" fill="url(#hg)"/><circle cx="376.94" cy="406.70" r="3.35" fill="#363636"/><circle cx="398.32" cy="407.00" r="7.1" fill="url(#hg)" opacity="0.55"/><circle cx="398.32" cy="406.90" r="5.7" fill="url(#hg)"/><circle cx="398.32" cy="406.70" r="3.35" fill="#363636"/><circle cx="419.70" cy="407.00" r="7.1" fill="url(#hg)" opacity="0.55"/><circle cx="419.70" cy="406.90" r="5.7" fill="url(#hg)"/><circle cx="419.70" cy="406.70" r="3.35" fill="#363636"/><circle cx="441.08" cy="407.00" r="7.1" fill="url(#hg)" opacity="0.55"/><circle cx="441.08" cy="406.90" r="5.7" fill="url(#hg)"/><circle cx="441.08" cy="406.70" r="3.35" fill="#363636"/><circle cx="462.46" cy="407.00" r="7.1" fill="url(#hg)" opacity="0.55"/><circle cx="462.46" cy="406.90" r="5.7" fill="url(#hg)"/><circle cx="462.46" cy="406.70" r="3.35" fill="#363636"/><circle cx="483.84" cy="407.00" r="7.1" fill="url(#gg)" opacity="0.55"/><circle cx="483.84" cy="406.90" r="5.7" fill="url(#gg)"/><circle cx="483.84" cy="406.70" r="3.35" fill="#246a24"/><circle cx="505.22" cy="407.00" r="7.1" fill="url(#gg)" opacity="0.55"/><circle cx="505.22" cy="406.90" r="5.7" fill="url(#gg)"/><circle cx="505.22" cy="406.70" r="3.35" fill="#246a24"/><circle cx="526.60" cy="407.00" r="7.1" fill="url(#gg)" opacity="0.55"/><circle cx="526.60" cy="406.90" r="5.7" fill="url(#gg)"/><circle cx="526.60" cy="406.70" r="3.35" fill="#246a24"/><circle cx="547.98" cy="407.00" r="7.1" fill="url(#gg)" opacity="0.55"/><circle cx="547.98" cy="406.90" r="5.7" fill="url(#gg)"/><circle cx="547.98" cy="406.70" r="3.35" fill="#246a24"/><circle cx="569.36" cy="407.00" r="7.1" fill="url(#hg)" opacity="0.55"/><circle cx="569.36" cy="406.90" r="5.7" fill="url(#hg)"/><circle cx="569.36" cy="406.70" r="3.35" fill="#363636"/><circle cx="590.74" cy="407.00" r="7.1" fill="url(#hg)" opacity="0.55"/><circle cx="590.74" cy="406.90" r="5.7" fill="url(#hg)"/><circle cx="590.74" cy="406.70" r="3.35" fill="#363636"/><circle cx="612.12" cy="407.00" r="7.1" fill="url(#hg)" opacity="0.55"/><circle cx="612.12" cy="406.90" r="5.7" fill="url(#hg)"/><circle cx="612.12" cy="406.70" r="3.35" fill="#363636"/><circle cx="633.50" cy="407.00" r="7.1" fill="url(#hg)" opacity="0.55"/><circle cx="633.50" cy="406.90" r="5.7" fill="url(#hg)"/><circle cx="633.50" cy="406.70" r="3.35" fill="#363636"/><circle cx="654.88" cy="407.00" r="7.1" fill="url(#hg)" opacity="0.55"/><circle cx="654.88" cy="406.90" r="5.7" fill="url(#hg)"/><circle cx="654.88" cy="406.70" r="3.35" fill="#363636"/><circle cx="676.26" cy="407.00" r="7.1" fill="url(#hg)" opacity="0.55"/><circle cx="676.26" cy="406.90" r="5.7" fill="url(#hg)"/><circle cx="676.26" cy="406.70" r="3.35" fill="#363636"/>
<text x="86.7" y="33.3" font-family="Liberation Sans" font-size="22" textLength="85.4" lengthAdjust="spacingAndGlyphs" fill="#dd1c1c" stroke="#dd1c1c" stroke-width="0.35">ISP pin #</text>
<text x="83.3" y="555.8" font-family="Liberation Sans" font-size="22" textLength="86" lengthAdjust="spacingAndGlyphs" fill="#dd1c1c" stroke="#dd1c1c" stroke-width="0.35">ISP pin #</text>
<text x="94" y="61.9" font-family="Liberation Sans" font-size="17.5" fill="#dd1c1c" text-anchor="middle">15</text>
<text x="119" y="61.9" font-family="Liberation Sans" font-size="17.5" fill="#dd1c1c" text-anchor="middle">13</text>
<text x="143" y="61.9" font-family="Liberation Sans" font-size="17.5" fill="#dd1c1c" text-anchor="middle">11</text>
<text x="168.5" y="61.9" font-family="Liberation Sans" font-size="17.5" fill="#dd1c1c" text-anchor="middle">9</text>
<text x="187.3" y="61.9" font-family="Liberation Sans" font-size="17.5" fill="#dd1c1c" text-anchor="middle">7</text>
<text x="206.8" y="61.9" font-family="Liberation Sans" font-size="17.5" fill="#dd1c1c" text-anchor="middle">5</text>
<text x="226.2" y="61.9" font-family="Liberation Sans" font-size="17.5" fill="#dd1c1c" text-anchor="middle">3</text>
<text x="245.6" y="61.9" font-family="Liberation Sans" font-size="17.5" fill="#dd1c1c" text-anchor="middle">1</text>
<text x="91.2" y="529.1" font-family="Liberation Sans" font-size="17.5" fill="#dd1c1c" text-anchor="middle">16</text>
<text x="116.2" y="529.1" font-family="Liberation Sans" font-size="17.5" fill="#dd1c1c" text-anchor="middle">14</text>
<text x="140.9" y="529.1" font-family="Liberation Sans" font-size="17.5" fill="#dd1c1c" text-anchor="middle">12</text>
<text x="165.9" y="529.1" font-family="Liberation Sans" font-size="17.5" fill="#dd1c1c" text-anchor="middle">10</text>
<text x="190.1" y="529.1" font-family="Liberation Sans" font-size="17.5" fill="#dd1c1c" text-anchor="middle">8</text>
<text x="209.5" y="529.1" font-family="Liberation Sans" font-size="17.5" fill="#dd1c1c" text-anchor="middle">6</text>
<text x="228.4" y="529.1" font-family="Liberation Sans" font-size="17.5" fill="#dd1c1c" text-anchor="middle">4</text>
<text x="247.8" y="529.1" font-family="Liberation Sans" font-size="17.5" fill="#dd1c1c" text-anchor="middle">2</text>
<rect x="56.2" y="252.2" width="230.0" height="74.5" fill="#3a3a3a"/>
<rect x="57.7" y="258.2" width="6" height="66.5" fill="#474747"/>
<rect x="62.2" y="318.7" width="220.0" height="6.5" fill="#484848"/>
<rect x="64.5" y="260.2" width="217.89999999999998" height="58.60000000000002" fill="#1c1c1c"/>
<line x1="99.00" y1="257.04" x2="99.00" y2="278.42" stroke="#050505" stroke-width="7.6" stroke-linecap="round"/>
<line x1="99.00" y1="257.04" x2="99.00" y2="278.42" stroke="#606060" stroke-width="4.2" stroke-linecap="round"/>
<line x1="99.00" y1="299.80" x2="99.00" y2="321.18" stroke="#050505" stroke-width="7.6" stroke-linecap="round"/>
<line x1="99.00" y1="299.80" x2="99.00" y2="321.18" stroke="#606060" stroke-width="4.2" stroke-linecap="round"/>
<rect x="93.40" y="272.82" width="11.2" height="11.2" rx="3" fill="#169a16" fill-opacity="0.5" stroke="#1fb81f" stroke-opacity="0.7" stroke-width="1.6"/>
<rect x="93.40" y="294.20" width="11.2" height="11.2" rx="3" fill="#169a16" fill-opacity="0.5" stroke="#1fb81f" stroke-opacity="0.7" stroke-width="1.6"/>
<circle cx="99.00" cy="257.04" r="5.4" fill="#169a16" fill-opacity="0.5" stroke="#1fb81f" stroke-opacity="0.7" stroke-width="1.6"/>
<circle cx="99.00" cy="321.18" r="5.4" fill="#169a16" fill-opacity="0.5" stroke="#1fb81f" stroke-opacity="0.7" stroke-width="1.6"/>
<line x1="120.38" y1="257.04" x2="120.38" y2="278.42" stroke="#050505" stroke-width="7.6" stroke-linecap="round"/>
<line x1="120.38" y1="257.04" x2="120.38" y2="278.42" stroke="#606060" stroke-width="4.2" stroke-linecap="round"/>
<line x1="120.38" y1="299.80" x2="120.38" y2="321.18" stroke="#050505" stroke-width="7.6" stroke-linecap="round"/>
<line x1="120.38" y1="299.80" x2="120.38" y2="321.18" stroke="#606060" stroke-width="4.2" stroke-linecap="round"/>
<rect x="114.78" y="272.82" width="11.2" height="11.2" rx="3" fill="#169a16" fill-opacity="0.5" stroke="#1fb81f" stroke-opacity="0.7" stroke-width="1.6"/>
<rect x="114.78" y="294.20" width="11.2" height="11.2" rx="3" fill="#169a16" fill-opacity="0.5" stroke="#1fb81f" stroke-opacity="0.7" stroke-width="1.6"/>
<circle cx="120.38" cy="257.04" r="5.4" fill="#169a16" fill-opacity="0.5" stroke="#1fb81f" stroke-opacity="0.7" stroke-width="1.6"/>
<circle cx="120.38" cy="321.18" r="5.4" fill="#169a16" fill-opacity="0.5" stroke="#1fb81f" stroke-opacity="0.7" stroke-width="1.6"/>
<line x1="141.76" y1="257.04" x2="141.76" y2="278.42" stroke="#050505" stroke-width="7.6" stroke-linecap="round"/>
<line x1="141.76" y1="257.04" x2="141.76" y2="278.42" stroke="#606060" stroke-width="4.2" stroke-linecap="round"/>
<line x1="141.76" y1="299.80" x2="141.76" y2="321.18" stroke="#050505" stroke-width="7.6" stroke-linecap="round"/>
<line x1="141.76" y1="299.80" x2="141.76" y2="321.18" stroke="#606060" stroke-width="4.2" stroke-linecap="round"/>
<rect x="136.16" y="272.82" width="11.2" height="11.2" rx="3" fill="#169a16" fill-opacity="0.5" stroke="#1fb81f" stroke-opacity="0.7" stroke-width="1.6"/>
<rect x="136.16" y="294.20" width="11.2" height="11.2" rx="3" fill="#169a16" fill-opacity="0.5" stroke="#1fb81f" stroke-opacity="0.7" stroke-width="1.6"/>
<circle cx="141.76" cy="257.04" r="5.4" fill="#169a16" fill-opacity="0.5" stroke="#1fb81f" stroke-opacity="0.7" stroke-width="1.6"/>
<circle cx="141.76" cy="321.18" r="5.4" fill="#169a16" fill-opacity="0.5" stroke="#1fb81f" stroke-opacity="0.7" stroke-width="1.6"/>
<line x1="163.14" y1="257.04" x2="163.14" y2="278.42" stroke="#050505" stroke-width="7.6" stroke-linecap="round"/>
<line x1="163.14" y1="257.04" x2="163.14" y2="278.42" stroke="#606060" stroke-width="4.2" stroke-linecap="round"/>
<line x1="163.14" y1="299.80" x2="163.14" y2="321.18" stroke="#050505" stroke-width="7.6" stroke-linecap="round"/>
<line x1="163.14" y1="299.80" x2="163.14" y2="321.18" stroke="#606060" stroke-width="4.2" stroke-linecap="round"/>
<rect x="157.54" y="272.82" width="11.2" height="11.2" rx="3" fill="#169a16" fill-opacity="0.5" stroke="#1fb81f" stroke-opacity="0.7" stroke-width="1.6"/>
<rect x="157.54" y="294.20" width="11.2" height="11.2" rx="3" fill="#169a16" fill-opacity="0.5" stroke="#1fb81f" stroke-opacity="0.7" stroke-width="1.6"/>
<circle cx="163.14" cy="257.04" r="5.4" fill="#169a16" fill-opacity="0.5" stroke="#1fb81f" stroke-opacity="0.7" stroke-width="1.6"/>
<circle cx="163.14" cy="321.18" r="5.4" fill="#169a16" fill-opacity="0.5" stroke="#1fb81f" stroke-opacity="0.7" stroke-width="1.6"/>
<line x1="184.52" y1="257.04" x2="184.52" y2="278.42" stroke="#050505" stroke-width="7.6" stroke-linecap="round"/>
<line x1="184.52" y1="257.04" x2="184.52" y2="278.42" stroke="#606060" stroke-width="4.2" stroke-linecap="round"/>
<line x1="184.52" y1="299.80" x2="184.52" y2="321.18" stroke="#050505" stroke-width="7.6" stroke-linecap="round"/>
<line x1="184.52" y1="299.80" x2="184.52" y2="321.18" stroke="#606060" stroke-width="4.2" stroke-linecap="round"/>
<rect x="178.92" y="272.82" width="11.2" height="11.2" rx="3" fill="#169a16" fill-opacity="0.5" stroke="#1fb81f" stroke-opacity="0.7" stroke-width="1.6"/>
<rect x="178.92" y="294.20" width="11.2" height="11.2" rx="3" fill="#169a16" fill-opacity="0.5" stroke="#1fb81f" stroke-opacity="0.7" stroke-width="1.6"/>
<circle cx="184.52" cy="257.04" r="5.4" fill="#169a16" fill-opacity="0.5" stroke="#1fb81f" stroke-opacity="0.7" stroke-width="1.6"/>
<circle cx="184.52" cy="321.18" r="5.4" fill="#169a16" fill-opacity="0.5" stroke="#1fb81f" stroke-opacity="0.7" stroke-width="1.6"/>
<line x1="205.90" y1="257.04" x2="205.90" y2="278.42" stroke="#050505" stroke-width="7.6" stroke-linecap="round"/>
<line x1="205.90" y1="257.04" x2="205.90" y2="278.42" stroke="#606060" stroke-width="4.2" stroke-linecap="round"/>
<line x1="205.90" y1="299.80" x2="205.90" y2="321.18" stroke="#050505" stroke-width="7.6" stroke-linecap="round"/>
<line x1="205.90" y1="299.80" x2="205.90" y2="321.18" stroke="#606060" stroke-width="4.2" stroke-linecap="round"/>
<rect x="200.30" y="272.82" width="11.2" height="11.2" rx="3" fill="#169a16" fill-opacity="0.5" stroke="#1fb81f" stroke-opacity="0.7" stroke-width="1.6"/>
<rect x="200.30" y="294.20" width="11.2" height="11.2" rx="3" fill="#169a16" fill-opacity="0.5" stroke="#1fb81f" stroke-opacity="0.7" stroke-width="1.6"/>
<circle cx="205.90" cy="257.04" r="5.4" fill="#169a16" fill-opacity="0.5" stroke="#1fb81f" stroke-opacity="0.7" stroke-width="1.6"/>
<circle cx="205.90" cy="321.18" r="5.4" fill="#169a16" fill-opacity="0.5" stroke="#1fb81f" stroke-opacity="0.7" stroke-width="1.6"/>
<line x1="227.28" y1="257.04" x2="227.28" y2="278.42" stroke="#050505" stroke-width="7.6" stroke-linecap="round"/>
<line x1="227.28" y1="257.04" x2="227.28" y2="278.42" stroke="#606060" stroke-width="4.2" stroke-linecap="round"/>
<line x1="227.28" y1="299.80" x2="227.28" y2="321.18" stroke="#050505" stroke-width="7.6" stroke-linecap="round"/>
<line x1="227.28" y1="299.80" x2="227.28" y2="321.18" stroke="#606060" stroke-width="4.2" stroke-linecap="round"/>
<rect x="221.68" y="272.82" width="11.2" height="11.2" rx="3" fill="#169a16" fill-opacity="0.5" stroke="#1fb81f" stroke-opacity="0.7" stroke-width="1.6"/>
<rect x="221.68" y="294.20" width="11.2" height="11.2" rx="3" fill="#169a16" fill-opacity="0.5" stroke="#1fb81f" stroke-opacity="0.7" stroke-width="1.6"/>
<circle cx="227.28" cy="257.04" r="5.4" fill="#169a16" fill-opacity="0.5" stroke="#1fb81f" stroke-opacity="0.7" stroke-width="1.6"/>
<circle cx="227.28" cy="321.18" r="5.4" fill="#169a16" fill-opacity="0.5" stroke="#1fb81f" stroke-opacity="0.7" stroke-width="1.6"/>
<line x1="248.66" y1="257.04" x2="248.66" y2="278.42" stroke="#050505" stroke-width="7.6" stroke-linecap="round"/>
<line x1="248.66" y1="257.04" x2="248.66" y2="278.42" stroke="#606060" stroke-width="4.2" stroke-linecap="round"/>
<line x1="248.66" y1="299.80" x2="248.66" y2="321.18" stroke="#050505" stroke-width="7.6" stroke-linecap="round"/>
<line x1="248.66" y1="299.80" x2="248.66" y2="321.18" stroke="#606060" stroke-width="4.2" stroke-linecap="round"/>
<rect x="243.06" y="272.82" width="11.2" height="11.2" rx="3" fill="#169a16" fill-opacity="0.5" stroke="#1fb81f" stroke-opacity="0.7" stroke-width="1.6"/>
<rect x="243.06" y="294.20" width="11.2" height="11.2" rx="3" fill="#169a16" fill-opacity="0.5" stroke="#1fb81f" stroke-opacity="0.7" stroke-width="1.6"/>
<circle cx="248.66" cy="257.04" r="5.4" fill="#169a16" fill-opacity="0.5" stroke="#1fb81f" stroke-opacity="0.7" stroke-width="1.6"/>
<circle cx="248.66" cy="321.18" r="5.4" fill="#169a16" fill-opacity="0.5" stroke="#1fb81f" stroke-opacity="0.7" stroke-width="1.6"/>
<g>
<rect x="473" y="225" width="86" height="128.2" fill="#218a39"/>
<circle cx="559" cy="289.5" r="6.6" fill="#d3d0d0"/>
<rect x="480.44" y="231.90" width="6.8" height="7.8" fill="#62b04c"/><rect x="481.64" y="233.20" width="4.4" height="5.2" fill="#58a040"/>
<rect x="480.44" y="338.90" width="6.8" height="7.8" fill="#62b04c"/><rect x="481.64" y="340.20" width="4.4" height="5.2" fill="#58a040"/>
<rect x="501.82" y="231.90" width="6.8" height="7.8" fill="#62b04c"/><rect x="503.02" y="233.20" width="4.4" height="5.2" fill="#58a040"/>
<rect x="501.82" y="338.90" width="6.8" height="7.8" fill="#62b04c"/><rect x="503.02" y="340.20" width="4.4" height="5.2" fill="#58a040"/>
<rect x="523.20" y="231.90" width="6.8" height="7.8" fill="#62b04c"/><rect x="524.40" y="233.20" width="4.4" height="5.2" fill="#58a040"/>
<rect x="523.20" y="338.90" width="6.8" height="7.8" fill="#62b04c"/><rect x="524.40" y="340.20" width="4.4" height="5.2" fill="#58a040"/>
<rect x="544.58" y="231.90" width="6.8" height="7.8" fill="#62b04c"/><rect x="545.78" y="233.20" width="4.4" height="5.2" fill="#58a040"/>
<rect x="544.58" y="338.90" width="6.8" height="7.8" fill="#62b04c"/><rect x="545.78" y="340.20" width="4.4" height="5.2" fill="#58a040"/>
<rect x="506.60" y="274" width="2.2" height="8.5" fill="#98ac98"/>
<rect x="506.60" y="296" width="2.2" height="9" fill="#98ac98"/>
<rect x="512.00" y="274" width="2.2" height="8.5" fill="#98ac98"/>
<rect x="512.00" y="296" width="2.2" height="9" fill="#98ac98"/>
<rect x="517.10" y="274" width="2.2" height="8.5" fill="#98ac98"/>
<rect x="517.10" y="296" width="2.2" height="9" fill="#98ac98"/>
<rect x="522.60" y="274" width="2.2" height="8.5" fill="#98ac98"/>
<rect x="522.60" y="296" width="2.2" height="9" fill="#98ac98"/>
<rect x="506.7" y="282.3" width="19.2" height="14.2" fill="#363232"/>
<g clip-path="url(#modclip)"><text transform="translate(503.3 289.4) rotate(180) scale(0.83 1)" x="0" y="5.3" font-family="Liberation Mono" font-size="16" letter-spacing="1.93" fill="#ffffff" text-anchor="middle">SPI_FLASH</text></g>
<text transform="translate(484.50 244.3) rotate(90)" x="0" y="3.3" font-family="Liberation Mono" font-size="10" fill="#ffffff" text-anchor="middle">4</text>
<text transform="translate(505.90 244.3) rotate(90)" x="0" y="3.3" font-family="Liberation Mono" font-size="10" fill="#ffffff" text-anchor="middle">3</text>
<text transform="translate(527.50 244.3) rotate(90)" x="0" y="3.3" font-family="Liberation Mono" font-size="10" fill="#ffffff" text-anchor="middle">2</text>
<text transform="translate(548.60 244.3) rotate(90)" x="0" y="3.3" font-family="Liberation Mono" font-size="10" fill="#ffffff" text-anchor="middle">1</text>
<text transform="translate(484.50 334.5) rotate(90)" x="0" y="3.3" font-family="Liberation Mono" font-size="10" fill="#ffffff" text-anchor="middle">5</text>
<text transform="translate(505.50 334.5) rotate(90)" x="0" y="3.3" font-family="Liberation Mono" font-size="10" fill="#ffffff" text-anchor="middle">6</text>
<text transform="translate(527.60 334.5) rotate(90)" x="0" y="3.3" font-family="Liberation Mono" font-size="10" fill="#ffffff" text-anchor="middle">7</text>
<text transform="translate(548.80 334.5) rotate(90)" x="0" y="3.3" font-family="Liberation Mono" font-size="10" fill="#ffffff" text-anchor="middle">8</text>
</g>
<path d="M291.42 86.00 L291.42 470.84" fill="none" stroke="#9c0808" stroke-width="9.3" stroke-linecap="round" stroke-linejoin="round"/><path d="M291.42 86.00 L291.42 470.84" fill="none" stroke="#d41414" stroke-width="5.8" stroke-linecap="round" stroke-linejoin="round"/><path d="M291.42 86.00L291.42 88.50" stroke="#10d010" stroke-width="9.3" stroke-linecap="round" opacity="0.13"/><path d="M291.42 86.00L291.42 92.50" stroke="#10d010" stroke-width="9.3" stroke-linecap="round" opacity="0.13"/><path d="M291.42 470.84L291.42 468.34" stroke="#10d010" stroke-width="9.3" stroke-linecap="round" opacity="0.13"/><path d="M291.42 470.84L291.42 464.34" stroke="#10d010" stroke-width="9.3" stroke-linecap="round" opacity="0.13"/>
<path d="M312.80 107.38 L312.80 492.22" fill="none" stroke="#0c0c0c" stroke-width="9.6" stroke-linecap="round" stroke-linejoin="round"/><path d="M312.80 107.38 L312.80 492.22" fill="none" stroke="#4c4c4c" stroke-width="5.0" stroke-linecap="round" stroke-linejoin="round"/><path d="M312.80 107.38L312.80 109.88" stroke="#10d010" stroke-width="9.6" stroke-linecap="round" opacity="0.13"/><path d="M312.80 107.38L312.80 113.88" stroke="#10d010" stroke-width="9.6" stroke-linecap="round" opacity="0.13"/><path d="M312.80 492.22L312.80 489.72" stroke="#10d010" stroke-width="9.6" stroke-linecap="round" opacity="0.13"/><path d="M312.80 492.22L312.80 485.72" stroke="#10d010" stroke-width="9.6" stroke-linecap="round" opacity="0.13"/>
<path d="M505.22 86.00 L462.46 171.52 L505.22 214.28" fill="none" stroke="#b84e10" stroke-width="9.3" stroke-linecap="round" stroke-linejoin="round"/><path d="M505.22 86.00 L462.46 171.52 L505.22 214.28" fill="none" stroke="#ee6a10" stroke-width="5.8" stroke-linecap="round" stroke-linejoin="round"/><path d="M464.52 167.41L462.46 171.52L465.71 174.77" fill="none" stroke="#c4602c" stroke-width="9.3" stroke-linejoin="round"/><path d="M505.22 86.00L504.10 88.24" stroke="#10d010" stroke-width="9.3" stroke-linecap="round" opacity="0.13"/><path d="M505.22 86.00L502.31 91.81" stroke="#10d010" stroke-width="9.3" stroke-linecap="round" opacity="0.13"/><path d="M505.22 214.28L503.45 212.51" stroke="#10d010" stroke-width="9.3" stroke-linecap="round" opacity="0.13"/><path d="M505.22 214.28L500.62 209.68" stroke="#10d010" stroke-width="9.3" stroke-linecap="round" opacity="0.13"/>
<path d="M547.98 107.38 L419.70 150.14 L355.56 363.94 L205.90 363.94" fill="none" stroke="#1d56b8" stroke-width="9.3" stroke-linecap="round" stroke-linejoin="round"/><path d="M547.98 107.38 L419.70 150.14 L355.56 363.94 L205.90 363.94" fill="none" stroke="#3a86e0" stroke-width="5.8" stroke-linecap="round" stroke-linejoin="round"/><path d="M424.06 148.69L419.70 150.14L418.38 154.55" fill="none" stroke="#1d56b8" stroke-width="9.3" stroke-linejoin="round"/><path d="M356.88 359.53L355.56 363.94L350.96 363.94" fill="none" stroke="#1d56b8" stroke-width="9.3" stroke-linejoin="round"/><path d="M547.98 107.38L545.61 108.17" stroke="#10d010" stroke-width="9.3" stroke-linecap="round" opacity="0.13"/><path d="M547.98 107.38L541.81 109.44" stroke="#10d010" stroke-width="9.3" stroke-linecap="round" opacity="0.13"/><path d="M205.90 363.94L208.40 363.94" stroke="#10d010" stroke-width="9.3" stroke-linecap="round" opacity="0.13"/><path d="M205.90 363.94L212.40 363.94" stroke="#10d010" stroke-width="9.3" stroke-linecap="round" opacity="0.13"/>
<path d="M526.60 107.38 L398.32 150.14 L334.18 342.56 L184.52 342.56 L184.52 363.94" fill="none" stroke="#d6c800" stroke-width="9.3" stroke-linecap="round" stroke-linejoin="round"/><path d="M526.60 107.38 L398.32 150.14 L334.18 342.56 L184.52 342.56 L184.52 363.94" fill="none" stroke="#fbec00" stroke-width="5.8" stroke-linecap="round" stroke-linejoin="round"/><path d="M402.68 148.69L398.32 150.14L396.87 154.50" fill="none" stroke="#d8d030" stroke-width="9.3" stroke-linejoin="round"/><path d="M335.63 338.20L334.18 342.56L329.58 342.56" fill="none" stroke="#d8d030" stroke-width="9.3" stroke-linejoin="round"/><path d="M189.12 342.56L184.52 342.56L184.52 347.16" fill="none" stroke="#d8d030" stroke-width="9.3" stroke-linejoin="round"/><path d="M526.60 107.38L524.23 108.17" stroke="#10d010" stroke-width="9.3" stroke-linecap="round" opacity="0.13"/><path d="M526.60 107.38L520.43 109.44" stroke="#10d010" stroke-width="9.3" stroke-linecap="round" opacity="0.13"/><path d="M184.52 363.94L184.52 361.44" stroke="#10d010" stroke-width="9.3" stroke-linecap="round" opacity="0.13"/><path d="M184.52 363.94L184.52 357.44" stroke="#10d010" stroke-width="9.3" stroke-linecap="round" opacity="0.13"/>
<path d="M184.52 214.28 L334.18 235.66 L462.46 385.32 L505.22 363.94" fill="none" stroke="#17a01d" stroke-width="9.3" stroke-linecap="round" stroke-linejoin="round"/><path d="M184.52 214.28 L334.18 235.66 L462.46 385.32 L505.22 363.94" fill="none" stroke="#22cc2a" stroke-width="5.8" stroke-linecap="round" stroke-linejoin="round"/><path d="M329.63 235.01L334.18 235.66L337.17 239.15" fill="none" stroke="#17a01d" stroke-width="9.3" stroke-linejoin="round"/><path d="M459.47 381.83L462.46 385.32L466.57 383.26" fill="none" stroke="#17a01d" stroke-width="9.3" stroke-linejoin="round"/><path d="M184.52 214.28L186.99 214.63" stroke="#10d010" stroke-width="9.3" stroke-linecap="round" opacity="0.13"/><path d="M184.52 214.28L190.95 215.20" stroke="#10d010" stroke-width="9.3" stroke-linecap="round" opacity="0.13"/><path d="M505.22 363.94L502.98 365.06" stroke="#10d010" stroke-width="9.3" stroke-linecap="round" opacity="0.13"/><path d="M505.22 363.94L499.41 366.85" stroke="#10d010" stroke-width="9.3" stroke-linecap="round" opacity="0.13"/>
<path d="M99.00 214.28 L334.18 257.04 L419.70 363.94 L483.84 363.94" fill="none" stroke="#626262" stroke-width="9.3" stroke-linecap="round" stroke-linejoin="round"/><path d="M99.00 214.28 L334.18 257.04 L419.70 363.94 L483.84 363.94" fill="none" stroke="#9a9a9a" stroke-width="5.8" stroke-linecap="round" stroke-linejoin="round"/><path d="M329.65 256.22L334.18 257.04L337.05 260.63" fill="none" stroke="#626262" stroke-width="9.3" stroke-linejoin="round"/><path d="M416.83 360.35L419.70 363.94L424.30 363.94" fill="none" stroke="#626262" stroke-width="9.3" stroke-linejoin="round"/><path d="M99.00 214.28L101.46 214.73" stroke="#10d010" stroke-width="9.3" stroke-linecap="round" opacity="0.13"/><path d="M99.00 214.28L105.40 215.44" stroke="#10d010" stroke-width="9.3" stroke-linecap="round" opacity="0.13"/><path d="M483.84 363.94L481.34 363.94" stroke="#10d010" stroke-width="9.3" stroke-linecap="round" opacity="0.13"/><path d="M483.84 363.94L477.34 363.94" stroke="#10d010" stroke-width="9.3" stroke-linecap="round" opacity="0.13"/>
<path d="M205.90 214.28 L227.28 192.90 L526.60 192.90 L526.60 214.28" fill="none" stroke="#6c2a06" stroke-width="9.3" stroke-linecap="round" stroke-linejoin="round"/><path d="M205.90 214.28 L227.28 192.90 L526.60 192.90 L526.60 214.28" fill="none" stroke="#8e3a0a" stroke-width="5.8" stroke-linecap="round" stroke-linejoin="round"/><path d="M224.03 196.15L227.28 192.90L231.88 192.90" fill="none" stroke="#6c2a06" stroke-width="9.3" stroke-linejoin="round"/><path d="M522.00 192.90L526.60 192.90L526.60 197.50" fill="none" stroke="#6c2a06" stroke-width="9.3" stroke-linejoin="round"/><path d="M205.90 214.28L207.67 212.51" stroke="#10d010" stroke-width="9.3" stroke-linecap="round" opacity="0.13"/><path d="M205.90 214.28L210.50 209.68" stroke="#10d010" stroke-width="9.3" stroke-linecap="round" opacity="0.13"/><path d="M526.60 214.28L526.60 211.78" stroke="#10d010" stroke-width="9.3" stroke-linecap="round" opacity="0.13"/><path d="M526.60 214.28L526.60 207.78" stroke="#10d010" stroke-width="9.3" stroke-linecap="round" opacity="0.13"/>
<path d="M248.66 214.28 L547.98 214.28" fill="none" stroke="#7c3080" stroke-width="9.3" stroke-linecap="round" stroke-linejoin="round"/><path d="M248.66 214.28 L547.98 214.28" fill="none" stroke="#aa55aa" stroke-width="5.8" stroke-linecap="round" stroke-linejoin="round"/><path d="M248.66 214.28L251.16 214.28" stroke="#10d010" stroke-width="9.3" stroke-linecap="round" opacity="0.13"/><path d="M248.66 214.28L255.16 214.28" stroke="#10d010" stroke-width="9.3" stroke-linecap="round" opacity="0.13"/><path d="M547.98 214.28L545.48 214.28" stroke="#10d010" stroke-width="9.3" stroke-linecap="round" opacity="0.13"/><path d="M547.98 214.28L541.48 214.28" stroke="#10d010" stroke-width="9.3" stroke-linecap="round" opacity="0.13"/>
<path d="M483.84 107.38 L441.08 171.52 L483.84 214.28" fill="none" stroke="#0c0c0c" stroke-width="9.6" stroke-linecap="round" stroke-linejoin="round"/><path d="M483.84 107.38 L441.08 171.52 L483.84 214.28" fill="none" stroke="#4c4c4c" stroke-width="5.0" stroke-linecap="round" stroke-linejoin="round"/><path d="M443.63 167.69L441.08 171.52L444.33 174.77" fill="none" stroke="#0c0c0c" stroke-width="9.6" stroke-linejoin="round"/><path d="M483.84 107.38L482.45 109.46" stroke="#10d010" stroke-width="9.6" stroke-linecap="round" opacity="0.13"/><path d="M483.84 107.38L480.23 112.79" stroke="#10d010" stroke-width="9.6" stroke-linecap="round" opacity="0.13"/><path d="M483.84 214.28L482.07 212.51" stroke="#10d010" stroke-width="9.6" stroke-linecap="round" opacity="0.13"/><path d="M483.84 214.28L479.24 209.68" stroke="#10d010" stroke-width="9.6" stroke-linecap="round" opacity="0.13"/>
<path d="M120.38 86.00 L77.62 171.52 L120.38 214.28" fill="none" stroke="#9c0808" stroke-width="9.3" stroke-linecap="round" stroke-linejoin="round"/><path d="M120.38 86.00 L77.62 171.52 L120.38 214.28" fill="none" stroke="#d41414" stroke-width="5.8" stroke-linecap="round" stroke-linejoin="round"/><path d="M79.68 167.41L77.62 171.52L80.87 174.77" fill="none" stroke="#a00808" stroke-width="9.3" stroke-linejoin="round"/><path d="M120.38 86.00L119.26 88.24" stroke="#10d010" stroke-width="9.3" stroke-linecap="round" opacity="0.13"/><path d="M120.38 86.00L117.47 91.81" stroke="#10d010" stroke-width="9.3" stroke-linecap="round" opacity="0.13"/><path d="M120.38 214.28L118.61 212.51" stroke="#10d010" stroke-width="9.3" stroke-linecap="round" opacity="0.13"/><path d="M120.38 214.28L115.78 209.68" stroke="#10d010" stroke-width="9.3" stroke-linecap="round" opacity="0.13"/>
<path d="M99.00 363.94 L77.62 406.70 L99.00 492.22" fill="none" stroke="#0c0c0c" stroke-width="9.6" stroke-linecap="round" stroke-linejoin="round"/><path d="M99.00 363.94 L77.62 406.70 L99.00 492.22" fill="none" stroke="#4c4c4c" stroke-width="5.0" stroke-linecap="round" stroke-linejoin="round"/><path d="M79.68 402.59L77.62 406.70L78.74 411.16" fill="none" stroke="#0c0c0c" stroke-width="9.6" stroke-linejoin="round"/><path d="M99.00 363.94L97.88 366.18" stroke="#10d010" stroke-width="9.6" stroke-linecap="round" opacity="0.13"/><path d="M99.00 363.94L96.09 369.75" stroke="#10d010" stroke-width="9.6" stroke-linecap="round" opacity="0.13"/><path d="M99.00 492.22L98.39 489.79" stroke="#10d010" stroke-width="9.6" stroke-linecap="round" opacity="0.13"/><path d="M99.00 492.22L97.42 485.91" stroke="#10d010" stroke-width="9.6" stroke-linecap="round" opacity="0.13"/>
<path d="M526.60 363.94 L569.36 406.70 L526.60 470.84" fill="none" stroke="#b84e10" stroke-width="9.3" stroke-linecap="round" stroke-linejoin="round"/><path d="M526.60 363.94 L569.36 406.70 L526.60 470.84" fill="none" stroke="#ee6a10" stroke-width="5.8" stroke-linecap="round" stroke-linejoin="round"/><path d="M566.11 403.45L569.36 406.70L566.81 410.53" fill="none" stroke="#c4602c" stroke-width="9.3" stroke-linejoin="round"/><path d="M526.60 363.94L528.37 365.71" stroke="#10d010" stroke-width="9.3" stroke-linecap="round" opacity="0.13"/><path d="M526.60 363.94L531.20 368.54" stroke="#10d010" stroke-width="9.3" stroke-linecap="round" opacity="0.13"/><path d="M526.60 470.84L527.99 468.76" stroke="#10d010" stroke-width="9.3" stroke-linecap="round" opacity="0.13"/><path d="M526.60 470.84L530.21 465.43" stroke="#10d010" stroke-width="9.3" stroke-linecap="round" opacity="0.13"/>
<path d="M547.98 363.94 L590.74 406.70 L547.98 470.84" fill="none" stroke="#b84e10" stroke-width="9.3" stroke-linecap="round" stroke-linejoin="round"/><path d="M547.98 363.94 L590.74 406.70 L547.98 470.84" fill="none" stroke="#ee6a10" stroke-width="5.8" stroke-linecap="round" stroke-linejoin="round"/><path d="M587.49 403.45L590.74 406.70L588.19 410.53" fill="none" stroke="#c4602c" stroke-width="9.3" stroke-linejoin="round"/><path d="M547.98 363.94L549.75 365.71" stroke="#10d010" stroke-width="9.3" stroke-linecap="round" opacity="0.13"/><path d="M547.98 363.94L552.58 368.54" stroke="#10d010" stroke-width="9.3" stroke-linecap="round" opacity="0.13"/><path d="M547.98 470.84L549.37 468.76" stroke="#10d010" stroke-width="9.3" stroke-linecap="round" opacity="0.13"/><path d="M547.98 470.84L551.59 465.43" stroke="#10d010" stroke-width="9.3" stroke-linecap="round" opacity="0.13"/>
</svg></body></html>
